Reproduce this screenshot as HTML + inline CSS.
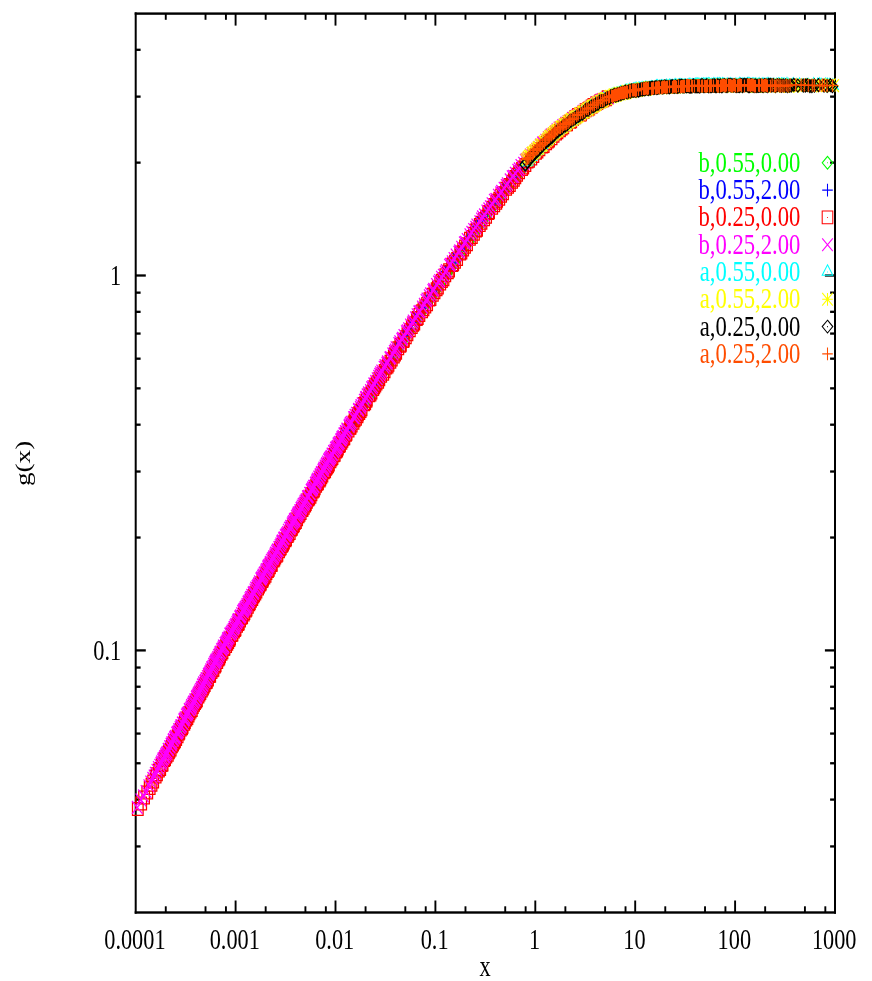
<!DOCTYPE html>
<html><head><meta charset="utf-8"><title>g(x)</title>
<style>html,body{margin:0;padding:0;background:#fff}svg{display:block;will-change:transform}text{font-family:"Liberation Serif",serif;font-size:22.3px}</style></head><body>
<svg width="872" height="981" viewBox="0 0 872 981">
<rect width="872" height="981" fill="#fff"/>
<defs>
<path id="pl" d="M-5.3,0H5.3M0,-6.4V6.4"/>
<path id="cr" d="M-5.3,-6.4L5.3,6.4M-5.3,6.4L5.3,-6.4"/>
<path id="st" d="M-5.3,0H5.3M0,-6.4V6.4M-5.3,-6.4L5.3,6.4M-5.3,6.4L5.3,-6.4"/>
<path id="bx" d="M-5.3,-6.4H5.3V6.4H-5.3ZM-.4,0h.8"/>
<path id="di" d="M0,-6.4L5.3,0L0,6.4L-5.3,0ZM-.4,0h.8"/>
<path id="tr" d="M0,-7.17L5.3,3.20H-5.3ZM-.4,0h.8"/>
</defs>
<g fill="#000">
<rect x="134.70" y="12.40" width="2.0" height="901.30"/>
<rect x="834.00" y="12.40" width="2.0" height="901.30"/>
<rect x="134.70" y="12.40" width="701.30" height="2.4"/>
<rect x="134.70" y="911.30" width="701.30" height="2.4"/>
<rect x="164.82" y="13.60" width="1.9" height="6.2"/>
<rect x="164.82" y="906.30" width="1.9" height="6.2"/>
<rect x="204.58" y="13.60" width="1.9" height="6.2"/>
<rect x="204.58" y="906.30" width="1.9" height="6.2"/>
<rect x="224.97" y="13.60" width="1.9" height="6.2"/>
<rect x="224.97" y="906.30" width="1.9" height="6.2"/>
<rect x="234.65" y="13.60" width="1.9" height="12.0"/>
<rect x="234.65" y="900.50" width="1.9" height="12.0"/>
<rect x="264.72" y="13.60" width="1.9" height="6.2"/>
<rect x="264.72" y="906.30" width="1.9" height="6.2"/>
<rect x="304.48" y="13.60" width="1.9" height="6.2"/>
<rect x="304.48" y="906.30" width="1.9" height="6.2"/>
<rect x="324.87" y="13.60" width="1.9" height="6.2"/>
<rect x="324.87" y="906.30" width="1.9" height="6.2"/>
<rect x="334.55" y="13.60" width="1.9" height="12.0"/>
<rect x="334.55" y="900.50" width="1.9" height="12.0"/>
<rect x="364.62" y="13.60" width="1.9" height="6.2"/>
<rect x="364.62" y="906.30" width="1.9" height="6.2"/>
<rect x="404.38" y="13.60" width="1.9" height="6.2"/>
<rect x="404.38" y="906.30" width="1.9" height="6.2"/>
<rect x="424.77" y="13.60" width="1.9" height="6.2"/>
<rect x="424.77" y="906.30" width="1.9" height="6.2"/>
<rect x="434.45" y="13.60" width="1.9" height="12.0"/>
<rect x="434.45" y="900.50" width="1.9" height="12.0"/>
<rect x="464.52" y="13.60" width="1.9" height="6.2"/>
<rect x="464.52" y="906.30" width="1.9" height="6.2"/>
<rect x="504.28" y="13.60" width="1.9" height="6.2"/>
<rect x="504.28" y="906.30" width="1.9" height="6.2"/>
<rect x="524.67" y="13.60" width="1.9" height="6.2"/>
<rect x="524.67" y="906.30" width="1.9" height="6.2"/>
<rect x="534.35" y="13.60" width="1.9" height="12.0"/>
<rect x="534.35" y="900.50" width="1.9" height="12.0"/>
<rect x="564.42" y="13.60" width="1.9" height="6.2"/>
<rect x="564.42" y="906.30" width="1.9" height="6.2"/>
<rect x="604.18" y="13.60" width="1.9" height="6.2"/>
<rect x="604.18" y="906.30" width="1.9" height="6.2"/>
<rect x="624.57" y="13.60" width="1.9" height="6.2"/>
<rect x="624.57" y="906.30" width="1.9" height="6.2"/>
<rect x="634.25" y="13.60" width="1.9" height="12.0"/>
<rect x="634.25" y="900.50" width="1.9" height="12.0"/>
<rect x="664.32" y="13.60" width="1.9" height="6.2"/>
<rect x="664.32" y="906.30" width="1.9" height="6.2"/>
<rect x="704.08" y="13.60" width="1.9" height="6.2"/>
<rect x="704.08" y="906.30" width="1.9" height="6.2"/>
<rect x="724.47" y="13.60" width="1.9" height="6.2"/>
<rect x="724.47" y="906.30" width="1.9" height="6.2"/>
<rect x="734.15" y="13.60" width="1.9" height="12.0"/>
<rect x="734.15" y="900.50" width="1.9" height="12.0"/>
<rect x="764.22" y="13.60" width="1.9" height="6.2"/>
<rect x="764.22" y="906.30" width="1.9" height="6.2"/>
<rect x="803.98" y="13.60" width="1.9" height="6.2"/>
<rect x="803.98" y="906.30" width="1.9" height="6.2"/>
<rect x="824.37" y="13.60" width="1.9" height="6.2"/>
<rect x="824.37" y="906.30" width="1.9" height="6.2"/>
<rect x="135.70" y="845.28" width="4.9" height="2.3"/>
<rect x="830.10" y="845.28" width="4.9" height="2.3"/>
<rect x="135.70" y="798.44" width="4.9" height="2.3"/>
<rect x="830.10" y="798.44" width="4.9" height="2.3"/>
<rect x="135.70" y="762.11" width="4.9" height="2.3"/>
<rect x="830.10" y="762.11" width="4.9" height="2.3"/>
<rect x="135.70" y="732.42" width="4.9" height="2.3"/>
<rect x="830.10" y="732.42" width="4.9" height="2.3"/>
<rect x="135.70" y="707.32" width="4.9" height="2.3"/>
<rect x="830.10" y="707.32" width="4.9" height="2.3"/>
<rect x="135.70" y="685.58" width="4.9" height="2.3"/>
<rect x="830.10" y="685.58" width="4.9" height="2.3"/>
<rect x="135.70" y="666.40" width="4.9" height="2.3"/>
<rect x="830.10" y="666.40" width="4.9" height="2.3"/>
<rect x="135.70" y="536.39" width="4.9" height="2.3"/>
<rect x="830.10" y="536.39" width="4.9" height="2.3"/>
<rect x="135.70" y="470.38" width="4.9" height="2.3"/>
<rect x="830.10" y="470.38" width="4.9" height="2.3"/>
<rect x="135.70" y="423.54" width="4.9" height="2.3"/>
<rect x="830.10" y="423.54" width="4.9" height="2.3"/>
<rect x="135.70" y="387.21" width="4.9" height="2.3"/>
<rect x="830.10" y="387.21" width="4.9" height="2.3"/>
<rect x="135.70" y="357.52" width="4.9" height="2.3"/>
<rect x="830.10" y="357.52" width="4.9" height="2.3"/>
<rect x="135.70" y="332.42" width="4.9" height="2.3"/>
<rect x="830.10" y="332.42" width="4.9" height="2.3"/>
<rect x="135.70" y="310.68" width="4.9" height="2.3"/>
<rect x="830.10" y="310.68" width="4.9" height="2.3"/>
<rect x="135.70" y="291.50" width="4.9" height="2.3"/>
<rect x="830.10" y="291.50" width="4.9" height="2.3"/>
<rect x="135.70" y="161.49" width="4.9" height="2.3"/>
<rect x="830.10" y="161.49" width="4.9" height="2.3"/>
<rect x="135.70" y="95.48" width="4.9" height="2.3"/>
<rect x="830.10" y="95.48" width="4.9" height="2.3"/>
<rect x="135.70" y="48.64" width="4.9" height="2.3"/>
<rect x="830.10" y="48.64" width="4.9" height="2.3"/>
<rect x="135.70" y="649.25" width="10.1" height="2.3"/>
<rect x="824.90" y="649.25" width="10.1" height="2.3"/>
<rect x="135.70" y="274.35" width="10.1" height="2.3"/>
<rect x="824.90" y="274.35" width="10.1" height="2.3"/>
</g>
<g fill="none" stroke-width="1.25">
<g stroke="#00ff00">
<use href="#di" x="176.00" y="738.5"/><use href="#di" x="179.48" y="731.8"/><use href="#di" x="180.96" y="730.4"/><use href="#di" x="182.91" y="726.3"/><use href="#di" x="184.10" y="723.9"/><use href="#di" x="186.03" y="720.9"/><use href="#di" x="187.51" y="717.4"/><use href="#di" x="188.89" y="715.4"/><use href="#di" x="190.81" y="711.8"/><use href="#di" x="192.08" y="708.5"/><use href="#di" x="193.95" y="705.1"/><use href="#di" x="195.30" y="702.6"/><use href="#di" x="196.91" y="699.5"/><use href="#di" x="198.75" y="696.6"/><use href="#di" x="200.63" y="692.6"/><use href="#di" x="201.74" y="690.7"/><use href="#di" x="203.41" y="687.2"/><use href="#di" x="205.29" y="684.8"/><use href="#di" x="207.11" y="680.6"/><use href="#di" x="208.45" y="678.2"/><use href="#di" x="209.93" y="675.7"/><use href="#di" x="211.93" y="672.4"/><use href="#di" x="212.88" y="669.9"/><use href="#di" x="215.05" y="666.6"/><use href="#di" x="216.25" y="663.8"/><use href="#di" x="217.75" y="661.1"/><use href="#di" x="219.33" y="658.2"/><use href="#di" x="221.07" y="654.3"/><use href="#di" x="223.02" y="651.3"/><use href="#di" x="224.18" y="648.9"/><use href="#di" x="226.06" y="645.2"/><use href="#di" x="227.70" y="643.3"/><use href="#di" x="229.11" y="639.9"/><use href="#di" x="230.83" y="637.2"/><use href="#di" x="232.09" y="635.2"/><use href="#di" x="233.69" y="632.1"/><use href="#di" x="235.39" y="628.7"/><use href="#di" x="237.33" y="625.5"/><use href="#di" x="238.75" y="623.0"/><use href="#di" x="240.27" y="620.6"/><use href="#di" x="242.06" y="616.4"/><use href="#di" x="243.57" y="614.4"/><use href="#di" x="245.06" y="611.2"/><use href="#di" x="247.01" y="607.8"/><use href="#di" x="248.54" y="605.8"/><use href="#di" x="249.82" y="603.1"/><use href="#di" x="251.65" y="599.9"/><use href="#di" x="253.22" y="597.4"/><use href="#di" x="255.06" y="594.3"/><use href="#di" x="256.56" y="591.0"/><use href="#di" x="257.85" y="588.9"/><use href="#di" x="259.94" y="585.1"/><use href="#di" x="260.93" y="583.3"/><use href="#di" x="262.74" y="580.4"/><use href="#di" x="264.58" y="576.8"/><use href="#di" x="265.76" y="574.8"/><use href="#di" x="267.59" y="571.5"/><use href="#di" x="268.88" y="569.9"/><use href="#di" x="270.92" y="565.9"/><use href="#di" x="272.59" y="563.2"/><use href="#di" x="274.05" y="560.7"/><use href="#di" x="275.86" y="556.6"/><use href="#di" x="277.07" y="554.8"/><use href="#di" x="278.94" y="552.1"/><use href="#di" x="280.47" y="549.2"/><use href="#di" x="282.06" y="545.4"/><use href="#di" x="283.57" y="542.7"/><use href="#di" x="285.44" y="539.9"/><use href="#di" x="287.11" y="536.4"/><use href="#di" x="288.38" y="534.4"/><use href="#di" x="290.11" y="531.1"/><use href="#di" x="291.29" y="529.9"/><use href="#di" x="293.34" y="526.4"/><use href="#di" x="294.90" y="523.8"/><use href="#di" x="296.75" y="519.6"/><use href="#di" x="298.23" y="517.7"/><use href="#di" x="299.45" y="515.5"/><use href="#di" x="301.12" y="511.9"/><use href="#di" x="302.92" y="509.7"/><use href="#di" x="304.07" y="507.8"/><use href="#di" x="305.97" y="503.5"/><use href="#di" x="307.37" y="502.0"/><use href="#di" x="308.93" y="498.5"/><use href="#di" x="310.49" y="495.9"/><use href="#di" x="312.59" y="493.0"/><use href="#di" x="313.74" y="490.8"/><use href="#di" x="315.42" y="486.9"/><use href="#di" x="317.12" y="484.3"/><use href="#di" x="319.06" y="481.1"/><use href="#di" x="320.11" y="479.0"/><use href="#di" x="321.96" y="475.6"/><use href="#di" x="323.63" y="472.9"/><use href="#di" x="325.47" y="470.3"/><use href="#di" x="327.02" y="466.6"/><use href="#di" x="328.65" y="464.6"/><use href="#di" x="329.84" y="462.4"/><use href="#di" x="331.54" y="458.9"/><use href="#di" x="333.10" y="456.7"/><use href="#di" x="335.07" y="453.7"/><use href="#di" x="336.72" y="450.7"/><use href="#di" x="337.76" y="448.4"/><use href="#di" x="339.37" y="446.9"/><use href="#di" x="341.01" y="443.8"/><use href="#di" x="342.61" y="441.4"/><use href="#di" x="344.39" y="437.2"/><use href="#di" x="346.06" y="434.5"/><use href="#di" x="348.17" y="430.7"/><use href="#di" x="349.24" y="429.9"/><use href="#di" x="351.27" y="425.8"/><use href="#di" x="352.66" y="423.2"/><use href="#di" x="354.42" y="420.7"/><use href="#di" x="356.45" y="417.9"/><use href="#di" x="357.59" y="415.9"/><use href="#di" x="358.86" y="413.0"/><use href="#di" x="360.54" y="410.0"/><use href="#di" x="362.17" y="408.4"/><use href="#di" x="362.86" y="406.7"/><use href="#di" x="365.62" y="402.3"/><use href="#di" x="367.04" y="399.1"/><use href="#di" x="368.78" y="396.1"/><use href="#di" x="370.30" y="394.5"/><use href="#di" x="371.37" y="392.4"/><use href="#di" x="373.03" y="389.1"/><use href="#di" x="374.29" y="388.3"/><use href="#di" x="376.72" y="383.8"/><use href="#di" x="377.62" y="382.6"/><use href="#di" x="379.35" y="378.8"/><use href="#di" x="381.28" y="376.7"/><use href="#di" x="382.96" y="372.8"/><use href="#di" x="384.98" y="370.7"/><use href="#di" x="386.36" y="367.8"/><use href="#di" x="388.09" y="364.9"/><use href="#di" x="390.12" y="361.9"/><use href="#di" x="391.88" y="359.6"/><use href="#di" x="394.10" y="355.1"/><use href="#di" x="395.50" y="352.7"/><use href="#di" x="398.58" y="348.3"/><use href="#di" x="400.12" y="345.5"/><use href="#di" x="401.39" y="343.3"/><use href="#di" x="403.48" y="340.0"/><use href="#di" x="405.57" y="336.6"/><use href="#di" x="407.58" y="333.6"/><use href="#di" x="409.24" y="331.2"/><use href="#di" x="412.27" y="326.4"/><use href="#di" x="414.51" y="323.5"/><use href="#di" x="415.83" y="320.8"/><use href="#di" x="417.93" y="317.8"/><use href="#di" x="419.47" y="315.0"/><use href="#di" x="421.61" y="311.9"/><use href="#di" x="424.08" y="307.6"/><use href="#di" x="426.12" y="304.8"/><use href="#di" x="429.09" y="299.9"/><use href="#di" x="430.35" y="298.9"/><use href="#di" x="432.38" y="295.6"/><use href="#di" x="435.92" y="289.7"/><use href="#di" x="437.58" y="287.5"/><use href="#di" x="439.33" y="285.5"/><use href="#di" x="442.19" y="280.1"/><use href="#di" x="443.79" y="278.6"/><use href="#di" x="446.84" y="273.5"/><use href="#di" x="449.84" y="269.1"/><use href="#di" x="452.07" y="266.2"/><use href="#di" x="454.24" y="262.4"/><use href="#di" x="456.03" y="259.9"/><use href="#di" x="458.58" y="256.4"/><use href="#di" x="460.70" y="253.6"/><use href="#di" x="463.94" y="248.0"/><use href="#di" x="466.01" y="245.6"/><use href="#di" x="468.75" y="241.4"/><use href="#di" x="470.52" y="238.8"/><use href="#di" x="472.78" y="235.2"/><use href="#di" x="476.00" y="230.4"/><use href="#di" x="478.64" y="226.2"/><use href="#di" x="480.86" y="223.2"/><use href="#di" x="483.19" y="219.8"/><use href="#di" x="485.61" y="217.3"/><use href="#di" x="487.90" y="213.4"/><use href="#di" x="489.58" y="211.0"/><use href="#di" x="492.39" y="207.0"/><use href="#di" x="494.56" y="205.1"/><use href="#di" x="496.50" y="202.5"/><use href="#di" x="498.90" y="199.0"/><use href="#di" x="501.65" y="194.8"/><use href="#di" x="504.03" y="191.6"/><use href="#di" x="507.03" y="187.7"/><use href="#di" x="509.80" y="184.4"/><use href="#di" x="511.49" y="181.8"/><use href="#di" x="514.58" y="178.2"/><use href="#di" x="517.05" y="174.8"/><use href="#di" x="519.40" y="172.7"/><use href="#di" x="520.97" y="170.7"/><use href="#di" x="523.17" y="167.3"/><use href="#di" x="525.58" y="164.0"/><use href="#di" x="527.94" y="162.3"/><use href="#di" x="530.35" y="158.7"/><use href="#di" x="533.34" y="155.7"/><use href="#di" x="536.12" y="152.4"/><use href="#di" x="538.44" y="150.6"/><use href="#di" x="540.33" y="148.8"/><use href="#di" x="542.98" y="146.2"/><use href="#di" x="545.58" y="143.1"/><use href="#di" x="546.98" y="142.1"/><use href="#di" x="550.19" y="138.2"/><use href="#di" x="552.94" y="135.9"/><use href="#di" x="555.16" y="133.5"/><use href="#di" x="557.51" y="131.8"/><use href="#di" x="559.53" y="129.6"/><use href="#di" x="561.51" y="127.8"/><use href="#di" x="564.77" y="125.5"/><use href="#di" x="566.53" y="124.0"/><use href="#di" x="569.58" y="122.2"/><use href="#di" x="572.22" y="120.1"/><use href="#di" x="573.82" y="119.2"/><use href="#di" x="576.23" y="117.3"/><use href="#di" x="579.39" y="115.0"/><use href="#di" x="581.48" y="113.7"/><use href="#di" x="583.10" y="111.9"/><use href="#di" x="585.44" y="110.2"/><use href="#di" x="587.87" y="109.5"/><use href="#di" x="591.33" y="106.2"/><use href="#di" x="593.59" y="105.6"/><use href="#di" x="595.07" y="104.6"/><use href="#di" x="598.42" y="101.8"/><use href="#di" x="601.04" y="101.5"/><use href="#di" x="602.98" y="100.6"/><use href="#di" x="604.95" y="99.3"/><use href="#di" x="607.63" y="98.2"/>
</g>
<g stroke="#0000ff">
<use href="#pl" x="172.00" y="743.0"/><use href="#pl" x="175.82" y="735.5"/><use href="#pl" x="176.95" y="733.1"/><use href="#pl" x="178.82" y="730.2"/><use href="#pl" x="180.40" y="727.6"/><use href="#pl" x="182.23" y="723.1"/><use href="#pl" x="183.81" y="719.9"/><use href="#pl" x="185.43" y="717.3"/><use href="#pl" x="186.86" y="714.7"/><use href="#pl" x="188.67" y="711.7"/><use href="#pl" x="190.13" y="708.2"/><use href="#pl" x="191.74" y="706.0"/><use href="#pl" x="193.01" y="703.6"/><use href="#pl" x="194.47" y="700.5"/><use href="#pl" x="196.14" y="696.9"/><use href="#pl" x="197.90" y="694.7"/><use href="#pl" x="199.32" y="691.1"/><use href="#pl" x="201.44" y="687.9"/><use href="#pl" x="202.84" y="684.4"/><use href="#pl" x="204.49" y="681.3"/><use href="#pl" x="206.09" y="679.1"/><use href="#pl" x="207.73" y="675.4"/><use href="#pl" x="209.19" y="673.5"/><use href="#pl" x="210.45" y="670.6"/><use href="#pl" x="212.61" y="666.1"/><use href="#pl" x="214.17" y="663.3"/><use href="#pl" x="215.60" y="660.9"/><use href="#pl" x="217.22" y="658.3"/><use href="#pl" x="218.91" y="655.6"/><use href="#pl" x="220.10" y="652.3"/><use href="#pl" x="222.17" y="648.8"/><use href="#pl" x="223.43" y="646.3"/><use href="#pl" x="224.90" y="644.6"/><use href="#pl" x="226.64" y="640.3"/><use href="#pl" x="228.56" y="636.7"/><use href="#pl" x="229.79" y="634.5"/><use href="#pl" x="231.77" y="631.4"/><use href="#pl" x="233.53" y="628.9"/><use href="#pl" x="234.80" y="626.6"/><use href="#pl" x="236.32" y="623.6"/><use href="#pl" x="237.99" y="621.0"/><use href="#pl" x="239.73" y="617.8"/><use href="#pl" x="241.39" y="613.9"/><use href="#pl" x="242.88" y="611.1"/><use href="#pl" x="244.50" y="609.2"/><use href="#pl" x="245.70" y="606.8"/><use href="#pl" x="247.35" y="602.8"/><use href="#pl" x="249.03" y="600.7"/><use href="#pl" x="250.97" y="596.9"/><use href="#pl" x="252.26" y="594.6"/><use href="#pl" x="254.05" y="591.3"/><use href="#pl" x="255.26" y="588.9"/><use href="#pl" x="256.89" y="585.8"/><use href="#pl" x="258.64" y="583.1"/><use href="#pl" x="260.52" y="579.8"/><use href="#pl" x="262.13" y="577.8"/><use href="#pl" x="263.72" y="573.8"/><use href="#pl" x="265.05" y="572.7"/><use href="#pl" x="266.81" y="568.5"/><use href="#pl" x="268.38" y="565.9"/><use href="#pl" x="269.98" y="563.8"/><use href="#pl" x="271.33" y="561.4"/><use href="#pl" x="273.48" y="557.0"/><use href="#pl" x="274.59" y="554.5"/><use href="#pl" x="276.73" y="551.3"/><use href="#pl" x="278.31" y="548.4"/><use href="#pl" x="279.26" y="547.5"/><use href="#pl" x="281.17" y="543.1"/><use href="#pl" x="283.02" y="540.1"/><use href="#pl" x="284.73" y="537.8"/><use href="#pl" x="285.96" y="534.4"/><use href="#pl" x="287.44" y="532.3"/><use href="#pl" x="289.00" y="530.1"/><use href="#pl" x="291.11" y="526.3"/><use href="#pl" x="292.20" y="523.4"/><use href="#pl" x="294.06" y="520.1"/><use href="#pl" x="295.35" y="517.9"/><use href="#pl" x="297.22" y="515.8"/><use href="#pl" x="299.12" y="511.5"/><use href="#pl" x="300.14" y="510.4"/><use href="#pl" x="302.22" y="507.0"/><use href="#pl" x="303.61" y="503.8"/><use href="#pl" x="305.47" y="500.4"/><use href="#pl" x="306.94" y="498.8"/><use href="#pl" x="308.21" y="496.1"/><use href="#pl" x="310.28" y="492.0"/><use href="#pl" x="311.59" y="490.3"/><use href="#pl" x="312.87" y="487.6"/><use href="#pl" x="314.45" y="484.7"/><use href="#pl" x="316.39" y="481.0"/><use href="#pl" x="317.97" y="479.3"/><use href="#pl" x="319.46" y="476.9"/><use href="#pl" x="320.95" y="474.0"/><use href="#pl" x="322.69" y="471.4"/><use href="#pl" x="324.27" y="467.4"/><use href="#pl" x="326.24" y="464.3"/><use href="#pl" x="327.25" y="462.9"/><use href="#pl" x="329.38" y="459.9"/><use href="#pl" x="331.04" y="457.1"/><use href="#pl" x="332.13" y="454.4"/><use href="#pl" x="334.30" y="450.5"/><use href="#pl" x="335.75" y="448.3"/><use href="#pl" x="337.48" y="445.4"/><use href="#pl" x="338.65" y="444.0"/><use href="#pl" x="340.31" y="440.2"/><use href="#pl" x="341.93" y="438.3"/><use href="#pl" x="343.95" y="434.8"/><use href="#pl" x="345.26" y="432.7"/><use href="#pl" x="346.70" y="430.2"/><use href="#pl" x="348.40" y="427.1"/><use href="#pl" x="349.50" y="424.8"/><use href="#pl" x="350.51" y="423.1"/><use href="#pl" x="351.92" y="420.8"/><use href="#pl" x="354.30" y="417.4"/><use href="#pl" x="354.89" y="415.4"/><use href="#pl" x="357.18" y="411.7"/><use href="#pl" x="357.60" y="411.8"/><use href="#pl" x="359.02" y="408.7"/><use href="#pl" x="360.78" y="405.5"/><use href="#pl" x="361.75" y="403.8"/><use href="#pl" x="363.44" y="401.7"/><use href="#pl" x="365.71" y="397.6"/><use href="#pl" x="367.06" y="396.3"/><use href="#pl" x="368.44" y="393.9"/><use href="#pl" x="369.67" y="392.0"/><use href="#pl" x="371.56" y="387.8"/><use href="#pl" x="373.11" y="385.0"/><use href="#pl" x="374.09" y="383.4"/><use href="#pl" x="375.87" y="381.1"/><use href="#pl" x="376.48" y="380.3"/><use href="#pl" x="379.00" y="375.8"/><use href="#pl" x="380.18" y="373.6"/><use href="#pl" x="382.20" y="370.6"/><use href="#pl" x="383.65" y="368.5"/><use href="#pl" x="384.77" y="366.7"/><use href="#pl" x="386.07" y="364.7"/><use href="#pl" x="388.95" y="360.2"/><use href="#pl" x="389.50" y="359.1"/><use href="#pl" x="391.66" y="354.8"/><use href="#pl" x="393.17" y="353.4"/><use href="#pl" x="394.81" y="350.0"/><use href="#pl" x="397.15" y="346.7"/><use href="#pl" x="399.22" y="343.1"/><use href="#pl" x="399.97" y="342.4"/><use href="#pl" x="402.29" y="338.0"/><use href="#pl" x="403.57" y="336.0"/><use href="#pl" x="405.73" y="332.6"/><use href="#pl" x="407.32" y="330.0"/><use href="#pl" x="408.83" y="328.6"/><use href="#pl" x="410.66" y="325.3"/><use href="#pl" x="412.59" y="321.9"/><use href="#pl" x="415.45" y="317.5"/><use href="#pl" x="416.77" y="316.3"/><use href="#pl" x="418.29" y="313.3"/><use href="#pl" x="421.18" y="308.4"/><use href="#pl" x="423.25" y="306.0"/><use href="#pl" x="424.44" y="303.9"/><use href="#pl" x="425.99" y="302.0"/><use href="#pl" x="428.06" y="297.6"/><use href="#pl" x="429.93" y="295.2"/><use href="#pl" x="432.31" y="292.1"/><use href="#pl" x="434.00" y="289.5"/><use href="#pl" x="436.28" y="286.1"/><use href="#pl" x="438.39" y="281.7"/><use href="#pl" x="440.93" y="278.2"/><use href="#pl" x="443.49" y="274.1"/><use href="#pl" x="445.44" y="271.3"/><use href="#pl" x="447.12" y="269.8"/><use href="#pl" x="449.30" y="266.0"/><use href="#pl" x="451.65" y="263.0"/><use href="#pl" x="453.64" y="259.2"/><use href="#pl" x="455.79" y="256.7"/><use href="#pl" x="457.60" y="253.5"/><use href="#pl" x="460.10" y="249.5"/><use href="#pl" x="463.27" y="245.6"/><use href="#pl" x="464.29" y="244.3"/><use href="#pl" x="467.02" y="239.1"/><use href="#pl" x="469.40" y="236.3"/><use href="#pl" x="471.92" y="232.7"/><use href="#pl" x="473.22" y="230.3"/><use href="#pl" x="475.49" y="227.2"/><use href="#pl" x="477.66" y="223.8"/><use href="#pl" x="480.07" y="220.4"/><use href="#pl" x="482.34" y="217.3"/><use href="#pl" x="485.25" y="213.6"/><use href="#pl" x="487.30" y="210.8"/><use href="#pl" x="489.54" y="207.1"/><use href="#pl" x="490.55" y="205.4"/><use href="#pl" x="492.76" y="202.8"/><use href="#pl" x="495.91" y="199.0"/><use href="#pl" x="498.37" y="195.0"/><use href="#pl" x="499.98" y="193.0"/><use href="#pl" x="502.34" y="189.8"/><use href="#pl" x="503.72" y="188.8"/><use href="#pl" x="506.46" y="184.8"/><use href="#pl" x="509.41" y="180.3"/><use href="#pl" x="511.47" y="177.7"/><use href="#pl" x="513.71" y="175.3"/><use href="#pl" x="516.08" y="172.5"/><use href="#pl" x="517.26" y="171.1"/><use href="#pl" x="519.27" y="167.7"/><use href="#pl" x="521.53" y="164.9"/><use href="#pl" x="524.25" y="162.3"/><use href="#pl" x="526.67" y="159.1"/><use href="#pl" x="529.23" y="156.2"/><use href="#pl" x="531.13" y="154.3"/><use href="#pl" x="533.22" y="153.1"/><use href="#pl" x="535.59" y="149.9"/><use href="#pl" x="537.36" y="148.6"/><use href="#pl" x="539.69" y="146.1"/><use href="#pl" x="541.17" y="144.8"/><use href="#pl" x="544.41" y="142.3"/><use href="#pl" x="545.84" y="141.1"/><use href="#pl" x="549.00" y="137.2"/><use href="#pl" x="550.82" y="135.3"/><use href="#pl" x="552.54" y="134.5"/><use href="#pl" x="554.49" y="132.0"/><use href="#pl" x="556.87" y="129.7"/><use href="#pl" x="559.61" y="128.7"/><use href="#pl" x="561.89" y="126.2"/><use href="#pl" x="563.27" y="125.8"/><use href="#pl" x="565.41" y="123.6"/><use href="#pl" x="568.25" y="122.3"/><use href="#pl" x="570.53" y="120.2"/><use href="#pl" x="572.46" y="118.5"/><use href="#pl" x="574.43" y="116.9"/><use href="#pl" x="577.16" y="115.9"/><use href="#pl" x="578.53" y="115.1"/><use href="#pl" x="581.14" y="113.7"/><use href="#pl" x="583.56" y="110.9"/><use href="#pl" x="586.46" y="109.7"/><use href="#pl" x="588.22" y="108.2"/><use href="#pl" x="590.75" y="106.9"/><use href="#pl" x="592.38" y="105.4"/><use href="#pl" x="594.24" y="104.4"/><use href="#pl" x="596.46" y="103.5"/><use href="#pl" x="599.66" y="102.3"/><use href="#pl" x="601.50" y="100.2"/><use href="#pl" x="603.15" y="99.9"/><use href="#pl" x="604.95" y="99.5"/><use href="#pl" x="607.81" y="98.5"/>
</g>
<g stroke="#ff0000">
<use href="#bx" x="137.80" y="809.1"/><use href="#bx" x="141.19" y="803.6"/><use href="#bx" x="144.07" y="797.5"/><use href="#bx" x="147.27" y="792.6"/><use href="#bx" x="149.68" y="788.0"/><use href="#bx" x="151.51" y="784.8"/><use href="#bx" x="153.20" y="781.4"/><use href="#bx" x="155.65" y="776.5"/><use href="#bx" x="156.97" y="774.2"/><use href="#bx" x="158.91" y="770.6"/><use href="#bx" x="160.20" y="768.9"/><use href="#bx" x="161.74" y="764.9"/><use href="#bx" x="162.59" y="764.4"/><use href="#bx" x="164.29" y="760.1"/><use href="#bx" x="165.09" y="758.9"/><use href="#bx" x="166.38" y="756.5"/><use href="#bx" x="167.82" y="754.8"/><use href="#bx" x="168.91" y="752.2"/><use href="#bx" x="169.56" y="750.8"/><use href="#bx" x="170.68" y="749.4"/><use href="#bx" x="171.91" y="746.3"/><use href="#bx" x="173.09" y="744.4"/><use href="#bx" x="174.10" y="742.6"/><use href="#bx" x="175.01" y="741.2"/><use href="#bx" x="176.20" y="739.0"/><use href="#bx" x="177.63" y="736.2"/><use href="#bx" x="178.86" y="733.5"/><use href="#bx" x="179.36" y="732.5"/><use href="#bx" x="180.82" y="729.5"/><use href="#bx" x="182.06" y="728.2"/><use href="#bx" x="182.65" y="726.8"/><use href="#bx" x="184.31" y="723.8"/><use href="#bx" x="184.91" y="721.9"/><use href="#bx" x="186.35" y="719.6"/><use href="#bx" x="187.41" y="718.0"/><use href="#bx" x="188.57" y="715.6"/><use href="#bx" x="189.44" y="713.3"/><use href="#bx" x="190.62" y="711.6"/><use href="#bx" x="191.84" y="709.9"/><use href="#bx" x="192.83" y="707.1"/><use href="#bx" x="194.09" y="704.7"/><use href="#bx" x="195.04" y="703.1"/><use href="#bx" x="196.13" y="701.6"/><use href="#bx" x="196.94" y="700.3"/><use href="#bx" x="198.46" y="696.5"/><use href="#bx" x="199.47" y="694.6"/><use href="#bx" x="200.39" y="693.0"/><use href="#bx" x="201.86" y="690.4"/><use href="#bx" x="202.97" y="688.6"/><use href="#bx" x="203.85" y="686.4"/><use href="#bx" x="204.75" y="685.0"/><use href="#bx" x="206.06" y="682.3"/><use href="#bx" x="206.90" y="681.8"/><use href="#bx" x="208.02" y="679.4"/><use href="#bx" x="209.33" y="676.1"/><use href="#bx" x="210.19" y="675.7"/><use href="#bx" x="211.54" y="672.0"/><use href="#bx" x="212.68" y="670.3"/><use href="#bx" x="213.46" y="669.7"/><use href="#bx" x="214.97" y="666.6"/><use href="#bx" x="215.68" y="665.2"/><use href="#bx" x="217.24" y="661.9"/><use href="#bx" x="218.37" y="659.5"/><use href="#bx" x="219.29" y="658.4"/><use href="#bx" x="220.07" y="656.3"/><use href="#bx" x="221.48" y="653.8"/><use href="#bx" x="222.49" y="652.2"/><use href="#bx" x="223.99" y="649.0"/><use href="#bx" x="224.52" y="648.5"/><use href="#bx" x="226.13" y="646.1"/><use href="#bx" x="227.32" y="643.8"/><use href="#bx" x="228.24" y="641.9"/><use href="#bx" x="229.40" y="640.0"/><use href="#bx" x="230.06" y="638.5"/><use href="#bx" x="231.71" y="635.1"/><use href="#bx" x="232.47" y="634.4"/><use href="#bx" x="233.90" y="631.5"/><use href="#bx" x="234.97" y="630.1"/><use href="#bx" x="235.54" y="629.3"/><use href="#bx" x="237.08" y="625.8"/><use href="#bx" x="238.28" y="623.9"/><use href="#bx" x="238.77" y="623.2"/><use href="#bx" x="240.07" y="620.4"/><use href="#bx" x="241.46" y="617.7"/><use href="#bx" x="242.14" y="617.1"/><use href="#bx" x="243.75" y="614.5"/><use href="#bx" x="244.42" y="613.1"/><use href="#bx" x="245.90" y="610.4"/><use href="#bx" x="246.53" y="609.5"/><use href="#bx" x="247.88" y="606.8"/><use href="#bx" x="249.27" y="604.3"/><use href="#bx" x="249.87" y="602.9"/><use href="#bx" x="251.01" y="600.7"/><use href="#bx" x="252.28" y="598.9"/><use href="#bx" x="253.25" y="596.4"/><use href="#bx" x="254.15" y="595.3"/><use href="#bx" x="255.35" y="593.6"/><use href="#bx" x="256.44" y="591.6"/><use href="#bx" x="258.08" y="588.6"/><use href="#bx" x="259.00" y="586.4"/><use href="#bx" x="260.25" y="584.4"/><use href="#bx" x="260.85" y="583.4"/><use href="#bx" x="262.38" y="580.9"/><use href="#bx" x="263.01" y="579.5"/><use href="#bx" x="264.40" y="577.4"/><use href="#bx" x="265.57" y="575.7"/><use href="#bx" x="266.48" y="573.0"/><use href="#bx" x="267.94" y="571.1"/><use href="#bx" x="268.82" y="569.7"/><use href="#bx" x="269.93" y="567.2"/><use href="#bx" x="271.25" y="565.0"/><use href="#bx" x="271.80" y="564.7"/><use href="#bx" x="273.52" y="560.4"/><use href="#bx" x="274.37" y="559.6"/><use href="#bx" x="275.30" y="557.4"/><use href="#bx" x="276.69" y="555.8"/><use href="#bx" x="277.41" y="554.8"/><use href="#bx" x="279.02" y="551.3"/><use href="#bx" x="279.83" y="549.3"/><use href="#bx" x="280.78" y="548.3"/><use href="#bx" x="282.16" y="545.8"/><use href="#bx" x="283.04" y="544.5"/><use href="#bx" x="283.95" y="542.6"/><use href="#bx" x="285.45" y="540.2"/><use href="#bx" x="286.06" y="539.3"/><use href="#bx" x="287.70" y="536.0"/><use href="#bx" x="288.40" y="534.6"/><use href="#bx" x="289.77" y="533.0"/><use href="#bx" x="291.12" y="529.6"/><use href="#bx" x="291.94" y="528.8"/><use href="#bx" x="293.09" y="526.3"/><use href="#bx" x="293.95" y="525.3"/><use href="#bx" x="294.83" y="522.9"/><use href="#bx" x="295.95" y="522.1"/><use href="#bx" x="297.13" y="519.2"/><use href="#bx" x="298.56" y="516.2"/><use href="#bx" x="299.53" y="514.8"/><use href="#bx" x="300.69" y="513.0"/><use href="#bx" x="302.05" y="510.0"/><use href="#bx" x="302.62" y="509.6"/><use href="#bx" x="303.79" y="507.6"/><use href="#bx" x="305.18" y="505.5"/><use href="#bx" x="305.84" y="503.9"/><use href="#bx" x="306.93" y="501.8"/><use href="#bx" x="308.28" y="499.4"/><use href="#bx" x="309.20" y="498.5"/><use href="#bx" x="310.48" y="496.6"/><use href="#bx" x="311.48" y="494.3"/><use href="#bx" x="312.84" y="491.5"/><use href="#bx" x="313.94" y="490.4"/><use href="#bx" x="314.77" y="488.3"/><use href="#bx" x="316.16" y="485.7"/><use href="#bx" x="317.16" y="483.8"/><use href="#bx" x="318.02" y="483.2"/><use href="#bx" x="319.68" y="480.4"/><use href="#bx" x="320.30" y="479.1"/><use href="#bx" x="321.33" y="477.1"/><use href="#bx" x="322.39" y="475.4"/><use href="#bx" x="323.87" y="472.3"/><use href="#bx" x="325.14" y="471.2"/><use href="#bx" x="326.17" y="468.6"/><use href="#bx" x="327.01" y="467.5"/><use href="#bx" x="328.01" y="466.1"/><use href="#bx" x="328.94" y="464.5"/><use href="#bx" x="330.48" y="461.3"/><use href="#bx" x="331.52" y="459.3"/><use href="#bx" x="332.47" y="458.0"/><use href="#bx" x="333.78" y="455.2"/><use href="#bx" x="334.74" y="454.6"/><use href="#bx" x="336.18" y="451.4"/><use href="#bx" x="337.14" y="450.5"/><use href="#bx" x="337.90" y="448.4"/><use href="#bx" x="339.46" y="445.9"/><use href="#bx" x="339.96" y="444.9"/><use href="#bx" x="341.40" y="442.7"/><use href="#bx" x="342.41" y="440.6"/><use href="#bx" x="343.39" y="438.7"/><use href="#bx" x="344.37" y="438.1"/><use href="#bx" x="345.97" y="434.7"/><use href="#bx" x="346.54" y="433.7"/><use href="#bx" x="348.57" y="430.4"/><use href="#bx" x="350.31" y="427.7"/><use href="#bx" x="350.40" y="427.4"/><use href="#bx" x="351.70" y="425.5"/><use href="#bx" x="353.49" y="422.6"/><use href="#bx" x="354.59" y="420.3"/><use href="#bx" x="356.02" y="418.7"/><use href="#bx" x="357.51" y="416.1"/><use href="#bx" x="357.88" y="414.3"/><use href="#bx" x="359.34" y="413.0"/><use href="#bx" x="360.62" y="410.9"/><use href="#bx" x="361.56" y="409.2"/><use href="#bx" x="364.04" y="404.1"/><use href="#bx" x="365.21" y="403.2"/><use href="#bx" x="366.44" y="400.8"/><use href="#bx" x="366.78" y="399.4"/><use href="#bx" x="369.30" y="395.2"/><use href="#bx" x="370.52" y="394.5"/><use href="#bx" x="371.49" y="392.5"/><use href="#bx" x="373.26" y="389.0"/><use href="#bx" x="374.24" y="387.2"/><use href="#bx" x="375.33" y="385.4"/><use href="#bx" x="376.57" y="383.5"/><use href="#bx" x="378.17" y="381.7"/><use href="#bx" x="379.33" y="379.1"/><use href="#bx" x="381.19" y="375.8"/><use href="#bx" x="383.23" y="373.6"/><use href="#bx" x="384.62" y="371.1"/><use href="#bx" x="386.31" y="367.5"/><use href="#bx" x="387.62" y="366.4"/><use href="#bx" x="388.50" y="364.6"/><use href="#bx" x="390.41" y="361.8"/><use href="#bx" x="391.78" y="359.4"/><use href="#bx" x="393.81" y="356.5"/><use href="#bx" x="394.99" y="354.4"/><use href="#bx" x="396.19" y="352.6"/><use href="#bx" x="398.30" y="348.3"/><use href="#bx" x="400.34" y="345.8"/><use href="#bx" x="400.89" y="344.7"/><use href="#bx" x="403.44" y="340.9"/><use href="#bx" x="403.85" y="339.8"/><use href="#bx" x="405.83" y="337.3"/><use href="#bx" x="407.45" y="334.3"/><use href="#bx" x="409.83" y="330.2"/><use href="#bx" x="411.79" y="327.0"/><use href="#bx" x="413.20" y="324.7"/><use href="#bx" x="414.32" y="323.4"/><use href="#bx" x="416.82" y="318.9"/><use href="#bx" x="417.78" y="318.0"/><use href="#bx" x="419.40" y="315.0"/><use href="#bx" x="422.10" y="311.3"/><use href="#bx" x="423.48" y="309.2"/><use href="#bx" x="425.36" y="306.4"/><use href="#bx" x="427.12" y="304.1"/><use href="#bx" x="429.38" y="299.4"/><use href="#bx" x="430.50" y="298.9"/><use href="#bx" x="432.86" y="294.7"/><use href="#bx" x="434.52" y="292.3"/><use href="#bx" x="436.62" y="289.3"/><use href="#bx" x="437.92" y="287.5"/><use href="#bx" x="440.23" y="283.4"/><use href="#bx" x="441.93" y="280.9"/><use href="#bx" x="443.50" y="279.3"/><use href="#bx" x="445.32" y="275.3"/><use href="#bx" x="447.86" y="272.3"/><use href="#bx" x="449.08" y="270.4"/><use href="#bx" x="452.24" y="264.9"/><use href="#bx" x="453.17" y="264.3"/><use href="#bx" x="455.00" y="261.7"/><use href="#bx" x="457.12" y="258.9"/><use href="#bx" x="460.27" y="253.4"/><use href="#bx" x="461.45" y="252.5"/><use href="#bx" x="463.17" y="249.4"/><use href="#bx" x="465.01" y="246.6"/><use href="#bx" x="467.03" y="244.2"/><use href="#bx" x="469.94" y="238.8"/><use href="#bx" x="471.85" y="236.9"/><use href="#bx" x="473.94" y="233.8"/><use href="#bx" x="476.00" y="230.4"/><use href="#bx" x="477.06" y="229.6"/><use href="#bx" x="479.79" y="225.0"/><use href="#bx" x="481.48" y="222.8"/><use href="#bx" x="484.11" y="219.1"/><use href="#bx" x="486.11" y="216.7"/><use href="#bx" x="488.22" y="212.9"/><use href="#bx" x="489.06" y="212.1"/><use href="#bx" x="492.18" y="207.7"/><use href="#bx" x="494.25" y="205.1"/><use href="#bx" x="496.29" y="202.7"/><use href="#bx" x="497.12" y="200.8"/><use href="#bx" x="499.26" y="198.7"/><use href="#bx" x="501.12" y="195.6"/><use href="#bx" x="503.02" y="193.3"/><use href="#bx" x="506.15" y="188.8"/><use href="#bx" x="508.10" y="186.6"/><use href="#bx" x="509.86" y="185.0"/><use href="#bx" x="512.12" y="181.7"/><use href="#bx" x="513.85" y="179.6"/><use href="#bx" x="515.37" y="177.1"/><use href="#bx" x="517.11" y="174.8"/><use href="#bx" x="519.10" y="172.2"/><use href="#bx" x="522.03" y="168.9"/><use href="#bx" x="523.25" y="167.4"/><use href="#bx" x="525.41" y="164.9"/><use href="#bx" x="527.56" y="161.4"/><use href="#bx" x="529.00" y="160.8"/><use href="#bx" x="531.33" y="158.5"/><use href="#bx" x="533.36" y="155.9"/><use href="#bx" x="535.97" y="152.6"/><use href="#bx" x="537.48" y="151.4"/><use href="#bx" x="539.42" y="149.1"/><use href="#bx" x="542.32" y="146.4"/><use href="#bx" x="543.67" y="146.0"/><use href="#bx" x="546.16" y="143.1"/><use href="#bx" x="547.83" y="141.5"/><use href="#bx" x="549.01" y="140.5"/><use href="#bx" x="551.55" y="138.1"/><use href="#bx" x="553.58" y="135.8"/><use href="#bx" x="556.05" y="133.5"/><use href="#bx" x="557.45" y="132.2"/><use href="#bx" x="559.95" y="130.1"/><use href="#bx" x="561.72" y="128.5"/><use href="#bx" x="563.27" y="127.3"/><use href="#bx" x="566.17" y="124.3"/><use href="#bx" x="567.09" y="124.2"/><use href="#bx" x="570.12" y="121.6"/><use href="#bx" x="571.21" y="121.2"/><use href="#bx" x="572.97" y="118.9"/><use href="#bx" x="575.25" y="117.3"/><use href="#bx" x="578.03" y="115.0"/><use href="#bx" x="580.34" y="114.4"/><use href="#bx" x="580.97" y="114.1"/><use href="#bx" x="583.65" y="111.9"/><use href="#bx" x="585.66" y="110.1"/><use href="#bx" x="588.08" y="109.2"/><use href="#bx" x="589.23" y="108.4"/><use href="#bx" x="591.66" y="106.6"/><use href="#bx" x="593.45" y="105.0"/><use href="#bx" x="596.13" y="103.5"/><use href="#bx" x="597.33" y="103.0"/><use href="#bx" x="600.29" y="101.2"/><use href="#bx" x="601.36" y="100.8"/><use href="#bx" x="603.27" y="100.1"/><use href="#bx" x="605.95" y="99.3"/><use href="#bx" x="607.66" y="97.3"/>
</g>
<g stroke="#ff00ff">
<use href="#cr" x="137.30" y="807.4"/><use href="#cr" x="140.95" y="799.9"/><use href="#cr" x="143.48" y="795.9"/><use href="#cr" x="146.10" y="791.5"/><use href="#cr" x="148.86" y="785.8"/><use href="#cr" x="150.73" y="782.0"/><use href="#cr" x="152.80" y="778.4"/><use href="#cr" x="154.12" y="776.0"/><use href="#cr" x="155.32" y="773.3"/><use href="#cr" x="156.96" y="770.2"/><use href="#cr" x="158.37" y="767.6"/><use href="#cr" x="159.79" y="765.2"/><use href="#cr" x="160.91" y="763.3"/><use href="#cr" x="161.57" y="761.9"/><use href="#cr" x="162.48" y="760.1"/><use href="#cr" x="163.16" y="758.6"/><use href="#cr" x="164.39" y="757.0"/><use href="#cr" x="164.90" y="756.4"/><use href="#cr" x="165.64" y="754.7"/><use href="#cr" x="166.29" y="753.5"/><use href="#cr" x="167.01" y="752.2"/><use href="#cr" x="168.19" y="749.4"/><use href="#cr" x="168.50" y="749.6"/><use href="#cr" x="169.79" y="746.8"/><use href="#cr" x="169.87" y="746.8"/><use href="#cr" x="171.12" y="744.5"/><use href="#cr" x="171.30" y="744.0"/><use href="#cr" x="171.92" y="742.6"/><use href="#cr" x="173.12" y="740.3"/><use href="#cr" x="173.48" y="739.6"/><use href="#cr" x="174.53" y="738.0"/><use href="#cr" x="174.84" y="737.2"/><use href="#cr" x="175.45" y="736.4"/><use href="#cr" x="176.65" y="733.3"/><use href="#cr" x="177.31" y="732.6"/><use href="#cr" x="178.11" y="731.8"/><use href="#cr" x="178.72" y="729.8"/><use href="#cr" x="178.97" y="729.7"/><use href="#cr" x="180.05" y="727.6"/><use href="#cr" x="180.81" y="725.9"/><use href="#cr" x="181.33" y="725.9"/><use href="#cr" x="182.36" y="723.0"/><use href="#cr" x="182.59" y="723.2"/><use href="#cr" x="183.79" y="720.1"/><use href="#cr" x="184.31" y="719.0"/><use href="#cr" x="184.52" y="719.7"/><use href="#cr" x="185.22" y="717.8"/><use href="#cr" x="186.37" y="715.1"/><use href="#cr" x="187.18" y="714.0"/><use href="#cr" x="187.37" y="713.8"/><use href="#cr" x="188.23" y="712.6"/><use href="#cr" x="189.22" y="709.8"/><use href="#cr" x="189.53" y="709.4"/><use href="#cr" x="190.71" y="708.2"/><use href="#cr" x="191.15" y="707.1"/><use href="#cr" x="191.55" y="705.5"/><use href="#cr" x="192.47" y="704.0"/><use href="#cr" x="193.31" y="702.5"/><use href="#cr" x="193.92" y="701.8"/><use href="#cr" x="194.79" y="700.1"/><use href="#cr" x="195.11" y="699.8"/><use href="#cr" x="196.27" y="697.6"/><use href="#cr" x="196.67" y="696.4"/><use href="#cr" x="197.56" y="695.0"/><use href="#cr" x="198.25" y="693.7"/><use href="#cr" x="198.80" y="692.7"/><use href="#cr" x="199.48" y="691.0"/><use href="#cr" x="200.46" y="689.6"/><use href="#cr" x="201.27" y="688.0"/><use href="#cr" x="201.86" y="687.2"/><use href="#cr" x="202.41" y="685.1"/><use href="#cr" x="202.92" y="685.1"/><use href="#cr" x="203.45" y="682.9"/><use href="#cr" x="204.79" y="681.5"/><use href="#cr" x="205.30" y="680.3"/><use href="#cr" x="206.09" y="678.7"/><use href="#cr" x="206.44" y="678.7"/><use href="#cr" x="207.34" y="676.5"/><use href="#cr" x="208.30" y="674.5"/><use href="#cr" x="208.89" y="673.9"/><use href="#cr" x="209.43" y="673.0"/><use href="#cr" x="209.93" y="671.7"/><use href="#cr" x="210.71" y="669.9"/><use href="#cr" x="211.73" y="668.1"/><use href="#cr" x="212.08" y="667.5"/><use href="#cr" x="212.99" y="666.2"/><use href="#cr" x="213.63" y="664.4"/><use href="#cr" x="214.54" y="662.8"/><use href="#cr" x="215.18" y="661.9"/><use href="#cr" x="215.51" y="661.0"/><use href="#cr" x="216.01" y="660.0"/><use href="#cr" x="216.90" y="659.0"/><use href="#cr" x="217.71" y="657.6"/><use href="#cr" x="218.52" y="655.6"/><use href="#cr" x="219.38" y="654.0"/><use href="#cr" x="220.13" y="652.2"/><use href="#cr" x="220.24" y="652.2"/><use href="#cr" x="221.50" y="649.7"/><use href="#cr" x="222.18" y="649.0"/><use href="#cr" x="222.92" y="647.7"/><use href="#cr" x="223.41" y="646.1"/><use href="#cr" x="223.90" y="646.4"/><use href="#cr" x="225.01" y="643.5"/><use href="#cr" x="225.68" y="643.0"/><use href="#cr" x="226.29" y="641.9"/><use href="#cr" x="227.15" y="640.5"/><use href="#cr" x="227.46" y="638.9"/><use href="#cr" x="227.97" y="638.3"/><use href="#cr" x="229.00" y="637.1"/><use href="#cr" x="229.87" y="634.3"/><use href="#cr" x="230.15" y="633.8"/><use href="#cr" x="231.24" y="632.6"/><use href="#cr" x="232.06" y="631.0"/><use href="#cr" x="232.28" y="631.2"/><use href="#cr" x="233.24" y="629.2"/><use href="#cr" x="233.99" y="627.6"/><use href="#cr" x="234.54" y="627.2"/><use href="#cr" x="235.06" y="625.6"/><use href="#cr" x="235.79" y="624.3"/><use href="#cr" x="236.84" y="622.6"/><use href="#cr" x="237.57" y="620.9"/><use href="#cr" x="238.03" y="620.0"/><use href="#cr" x="238.47" y="619.5"/><use href="#cr" x="239.68" y="617.0"/><use href="#cr" x="240.35" y="616.7"/><use href="#cr" x="240.68" y="615.7"/><use href="#cr" x="241.62" y="613.8"/><use href="#cr" x="242.54" y="611.5"/><use href="#cr" x="243.23" y="610.7"/><use href="#cr" x="243.68" y="609.9"/><use href="#cr" x="244.35" y="609.0"/><use href="#cr" x="245.12" y="607.6"/><use href="#cr" x="245.54" y="607.3"/><use href="#cr" x="246.25" y="606.1"/><use href="#cr" x="246.94" y="604.2"/><use href="#cr" x="248.00" y="602.2"/><use href="#cr" x="248.47" y="601.7"/><use href="#cr" x="249.31" y="600.7"/><use href="#cr" x="249.89" y="598.7"/><use href="#cr" x="250.67" y="597.6"/><use href="#cr" x="251.12" y="597.2"/><use href="#cr" x="251.74" y="595.2"/><use href="#cr" x="253.11" y="593.0"/><use href="#cr" x="253.37" y="593.4"/><use href="#cr" x="253.89" y="592.3"/><use href="#cr" x="254.96" y="590.0"/><use href="#cr" x="255.76" y="588.0"/><use href="#cr" x="256.02" y="588.6"/><use href="#cr" x="257.03" y="586.5"/><use href="#cr" x="257.55" y="585.8"/><use href="#cr" x="258.38" y="584.5"/><use href="#cr" x="258.73" y="583.8"/><use href="#cr" x="259.44" y="581.9"/><use href="#cr" x="260.81" y="579.1"/><use href="#cr" x="261.42" y="578.2"/><use href="#cr" x="261.85" y="577.7"/><use href="#cr" x="262.61" y="576.4"/><use href="#cr" x="263.10" y="575.0"/><use href="#cr" x="264.16" y="573.2"/><use href="#cr" x="264.61" y="573.0"/><use href="#cr" x="265.67" y="571.1"/><use href="#cr" x="266.25" y="569.7"/><use href="#cr" x="266.99" y="569.3"/><use href="#cr" x="267.79" y="567.4"/><use href="#cr" x="267.99" y="566.2"/><use href="#cr" x="268.54" y="565.7"/><use href="#cr" x="269.35" y="564.8"/><use href="#cr" x="270.04" y="562.9"/><use href="#cr" x="270.67" y="562.3"/><use href="#cr" x="271.35" y="560.2"/><use href="#cr" x="272.40" y="558.7"/><use href="#cr" x="273.32" y="557.9"/><use href="#cr" x="273.73" y="556.8"/><use href="#cr" x="274.78" y="555.1"/><use href="#cr" x="275.45" y="553.2"/><use href="#cr" x="275.56" y="553.4"/><use href="#cr" x="276.63" y="551.6"/><use href="#cr" x="277.19" y="550.2"/><use href="#cr" x="277.70" y="549.9"/><use href="#cr" x="278.98" y="547.4"/><use href="#cr" x="279.19" y="547.7"/><use href="#cr" x="280.11" y="545.5"/><use href="#cr" x="280.86" y="543.9"/><use href="#cr" x="281.78" y="541.9"/><use href="#cr" x="282.28" y="541.1"/><use href="#cr" x="282.79" y="541.0"/><use href="#cr" x="283.53" y="538.8"/><use href="#cr" x="284.02" y="537.9"/><use href="#cr" x="285.29" y="535.8"/><use href="#cr" x="286.01" y="535.0"/><use href="#cr" x="286.17" y="535.1"/><use href="#cr" x="286.74" y="533.8"/><use href="#cr" x="287.59" y="532.6"/><use href="#cr" x="288.36" y="530.2"/><use href="#cr" x="289.44" y="528.2"/><use href="#cr" x="290.15" y="528.1"/><use href="#cr" x="290.80" y="526.3"/><use href="#cr" x="290.95" y="526.6"/><use href="#cr" x="292.16" y="523.9"/><use href="#cr" x="292.81" y="522.5"/><use href="#cr" x="293.46" y="521.5"/><use href="#cr" x="294.40" y="519.6"/><use href="#cr" x="294.45" y="520.6"/><use href="#cr" x="295.21" y="518.9"/><use href="#cr" x="296.34" y="516.5"/><use href="#cr" x="297.17" y="515.2"/><use href="#cr" x="297.69" y="514.2"/><use href="#cr" x="298.12" y="513.0"/><use href="#cr" x="299.03" y="512.6"/><use href="#cr" x="299.84" y="510.7"/><use href="#cr" x="300.09" y="510.8"/><use href="#cr" x="300.94" y="508.6"/><use href="#cr" x="301.59" y="507.7"/><use href="#cr" x="302.20" y="506.1"/><use href="#cr" x="303.15" y="504.2"/><use href="#cr" x="303.63" y="504.6"/><use href="#cr" x="304.38" y="503.1"/><use href="#cr" x="305.01" y="501.3"/><use href="#cr" x="306.09" y="500.2"/><use href="#cr" x="306.32" y="499.7"/><use href="#cr" x="307.51" y="496.9"/><use href="#cr" x="307.85" y="496.7"/><use href="#cr" x="308.44" y="496.2"/><use href="#cr" x="309.76" y="493.2"/><use href="#cr" x="309.97" y="493.5"/><use href="#cr" x="311.17" y="490.4"/><use href="#cr" x="311.82" y="489.5"/><use href="#cr" x="312.53" y="488.7"/><use href="#cr" x="312.71" y="487.7"/><use href="#cr" x="313.63" y="486.2"/><use href="#cr" x="314.08" y="486.2"/><use href="#cr" x="315.36" y="483.4"/><use href="#cr" x="316.00" y="482.8"/><use href="#cr" x="316.55" y="481.0"/><use href="#cr" x="317.13" y="479.9"/><use href="#cr" x="317.75" y="479.1"/><use href="#cr" x="318.79" y="477.1"/><use href="#cr" x="319.25" y="477.4"/><use href="#cr" x="320.05" y="475.0"/><use href="#cr" x="320.41" y="474.8"/><use href="#cr" x="321.17" y="472.9"/><use href="#cr" x="321.75" y="472.4"/><use href="#cr" x="322.91" y="470.2"/><use href="#cr" x="323.50" y="469.2"/><use href="#cr" x="323.91" y="468.0"/><use href="#cr" x="325.12" y="466.0"/><use href="#cr" x="325.40" y="466.6"/><use href="#cr" x="326.20" y="464.5"/><use href="#cr" x="326.72" y="463.5"/><use href="#cr" x="327.50" y="462.0"/><use href="#cr" x="328.60" y="460.3"/><use href="#cr" x="328.95" y="459.6"/><use href="#cr" x="329.53" y="458.4"/><use href="#cr" x="330.46" y="457.6"/><use href="#cr" x="331.03" y="456.2"/><use href="#cr" x="332.14" y="454.0"/><use href="#cr" x="332.29" y="454.6"/><use href="#cr" x="333.60" y="451.5"/><use href="#cr" x="333.65" y="451.6"/><use href="#cr" x="334.94" y="450.2"/><use href="#cr" x="335.48" y="448.3"/><use href="#cr" x="335.86" y="448.1"/><use href="#cr" x="336.75" y="447.2"/><use href="#cr" x="337.31" y="446.2"/><use href="#cr" x="337.99" y="444.1"/><use href="#cr" x="338.65" y="443.2"/><use href="#cr" x="339.47" y="442.4"/><use href="#cr" x="340.61" y="440.0"/><use href="#cr" x="341.31" y="439.6"/><use href="#cr" x="341.96" y="437.4"/><use href="#cr" x="342.08" y="438.3"/><use href="#cr" x="342.91" y="436.2"/><use href="#cr" x="344.04" y="433.9"/><use href="#cr" x="344.15" y="434.0"/><use href="#cr" x="345.32" y="431.6"/><use href="#cr" x="345.72" y="431.7"/><use href="#cr" x="346.90" y="429.1"/><use href="#cr" x="346.92" y="430.0"/><use href="#cr" x="348.93" y="426.1"/><use href="#cr" x="349.41" y="425.0"/><use href="#cr" x="350.28" y="423.4"/><use href="#cr" x="351.24" y="422.3"/><use href="#cr" x="353.56" y="417.8"/><use href="#cr" x="354.30" y="417.5"/><use href="#cr" x="355.01" y="415.3"/><use href="#cr" x="356.54" y="413.2"/><use href="#cr" x="358.41" y="410.1"/><use href="#cr" x="358.64" y="409.4"/><use href="#cr" x="360.35" y="407.2"/><use href="#cr" x="360.97" y="405.6"/><use href="#cr" x="362.27" y="403.8"/><use href="#cr" x="364.34" y="400.3"/><use href="#cr" x="365.51" y="397.9"/><use href="#cr" x="366.05" y="397.2"/><use href="#cr" x="367.15" y="394.9"/><use href="#cr" x="368.45" y="392.9"/><use href="#cr" x="370.47" y="390.5"/><use href="#cr" x="371.61" y="387.8"/><use href="#cr" x="372.61" y="386.7"/><use href="#cr" x="373.83" y="383.9"/><use href="#cr" x="375.73" y="381.4"/><use href="#cr" x="377.21" y="378.7"/><use href="#cr" x="378.70" y="376.4"/><use href="#cr" x="379.74" y="374.4"/><use href="#cr" x="380.58" y="372.7"/><use href="#cr" x="381.77" y="371.1"/><use href="#cr" x="384.09" y="367.2"/><use href="#cr" x="385.04" y="365.5"/><use href="#cr" x="386.89" y="363.4"/><use href="#cr" x="387.38" y="361.9"/><use href="#cr" x="389.87" y="358.1"/><use href="#cr" x="390.65" y="357.5"/><use href="#cr" x="392.82" y="353.9"/><use href="#cr" x="394.31" y="351.6"/><use href="#cr" x="395.27" y="350.1"/><use href="#cr" x="396.09" y="347.7"/><use href="#cr" x="398.84" y="343.6"/><use href="#cr" x="399.75" y="341.8"/><use href="#cr" x="401.82" y="339.4"/><use href="#cr" x="402.51" y="338.3"/><use href="#cr" x="403.94" y="335.6"/><use href="#cr" x="406.40" y="331.8"/><use href="#cr" x="407.32" y="330.7"/><use href="#cr" x="408.61" y="328.7"/><use href="#cr" x="410.50" y="325.1"/><use href="#cr" x="412.41" y="322.9"/><use href="#cr" x="413.20" y="321.0"/><use href="#cr" x="415.55" y="317.7"/><use href="#cr" x="417.09" y="314.7"/><use href="#cr" x="418.84" y="311.9"/><use href="#cr" x="419.95" y="311.3"/><use href="#cr" x="422.46" y="307.1"/><use href="#cr" x="424.30" y="304.2"/><use href="#cr" x="426.07" y="300.6"/><use href="#cr" x="427.02" y="299.1"/><use href="#cr" x="429.30" y="295.8"/><use href="#cr" x="430.58" y="293.9"/><use href="#cr" x="432.85" y="290.5"/><use href="#cr" x="433.65" y="289.4"/><use href="#cr" x="436.57" y="284.5"/><use href="#cr" x="438.48" y="282.0"/><use href="#cr" x="439.64" y="280.6"/><use href="#cr" x="441.49" y="277.2"/><use href="#cr" x="443.35" y="275.3"/><use href="#cr" x="445.21" y="272.1"/><use href="#cr" x="446.35" y="270.6"/><use href="#cr" x="449.55" y="265.2"/><use href="#cr" x="450.41" y="264.2"/><use href="#cr" x="452.25" y="261.8"/><use href="#cr" x="454.04" y="258.6"/><use href="#cr" x="456.14" y="255.0"/><use href="#cr" x="458.84" y="252.2"/><use href="#cr" x="459.63" y="250.9"/><use href="#cr" x="461.63" y="247.3"/><use href="#cr" x="464.37" y="242.9"/><use href="#cr" x="465.57" y="242.3"/><use href="#cr" x="467.22" y="239.5"/><use href="#cr" x="469.93" y="234.8"/><use href="#cr" x="471.80" y="232.4"/><use href="#cr" x="473.62" y="229.5"/><use href="#cr" x="475.78" y="227.4"/><use href="#cr" x="476.84" y="225.0"/><use href="#cr" x="479.81" y="221.8"/><use href="#cr" x="481.50" y="219.1"/><use href="#cr" x="482.46" y="216.9"/><use href="#cr" x="484.46" y="214.9"/><use href="#cr" x="486.88" y="211.1"/><use href="#cr" x="488.79" y="208.9"/><use href="#cr" x="490.38" y="206.8"/><use href="#cr" x="492.06" y="203.7"/><use href="#cr" x="494.36" y="200.3"/><use href="#cr" x="495.88" y="199.4"/><use href="#cr" x="498.42" y="195.3"/><use href="#cr" x="500.70" y="192.9"/><use href="#cr" x="501.60" y="191.4"/><use href="#cr" x="504.09" y="188.2"/><use href="#cr" x="506.24" y="185.5"/><use href="#cr" x="507.32" y="183.8"/><use href="#cr" x="510.15" y="179.9"/><use href="#cr" x="512.20" y="176.7"/><use href="#cr" x="513.34" y="176.2"/><use href="#cr" x="515.28" y="173.3"/><use href="#cr" x="517.77" y="170.2"/><use href="#cr" x="519.23" y="168.9"/><use href="#cr" x="520.95" y="165.6"/><use href="#cr" x="523.61" y="163.2"/><use href="#cr" x="525.28" y="160.2"/><use href="#cr" x="526.57" y="159.7"/><use href="#cr" x="528.33" y="157.9"/><use href="#cr" x="530.36" y="155.0"/><use href="#cr" x="532.40" y="153.4"/><use href="#cr" x="535.07" y="151.4"/><use href="#cr" x="536.72" y="149.3"/><use href="#cr" x="538.77" y="147.2"/><use href="#cr" x="540.53" y="145.1"/><use href="#cr" x="542.48" y="143.0"/><use href="#cr" x="543.27" y="142.7"/><use href="#cr" x="545.82" y="140.3"/><use href="#cr" x="548.33" y="137.6"/><use href="#cr" x="550.20" y="136.0"/><use href="#cr" x="551.14" y="134.9"/><use href="#cr" x="553.28" y="133.8"/><use href="#cr" x="555.48" y="131.8"/><use href="#cr" x="557.00" y="129.9"/><use href="#cr" x="559.14" y="128.1"/><use href="#cr" x="560.39" y="127.5"/><use href="#cr" x="562.80" y="125.6"/><use href="#cr" x="564.80" y="124.8"/><use href="#cr" x="566.02" y="123.1"/><use href="#cr" x="568.09" y="121.6"/><use href="#cr" x="571.15" y="120.3"/><use href="#cr" x="572.78" y="118.2"/><use href="#cr" x="574.90" y="117.4"/><use href="#cr" x="576.38" y="116.1"/><use href="#cr" x="578.53" y="115.3"/><use href="#cr" x="580.53" y="113.6"/><use href="#cr" x="582.43" y="112.6"/><use href="#cr" x="583.14" y="111.3"/><use href="#cr" x="585.89" y="110.1"/><use href="#cr" x="587.26" y="109.2"/><use href="#cr" x="589.74" y="107.4"/><use href="#cr" x="591.08" y="107.0"/><use href="#cr" x="593.35" y="105.7"/><use href="#cr" x="595.79" y="103.3"/><use href="#cr" x="597.26" y="102.7"/><use href="#cr" x="598.64" y="102.0"/><use href="#cr" x="600.92" y="100.6"/><use href="#cr" x="602.70" y="99.5"/><use href="#cr" x="605.32" y="98.6"/><use href="#cr" x="606.29" y="98.1"/><use href="#cr" x="608.22" y="97.9"/>
</g>
<g stroke="#00ffff">
<use href="#tr" x="525.97" y="162.7"/><use href="#tr" x="527.57" y="161.8"/><use href="#tr" x="529.49" y="159.4"/><use href="#tr" x="531.38" y="157.1"/><use href="#tr" x="533.12" y="155.5"/><use href="#tr" x="534.80" y="153.4"/><use href="#tr" x="536.54" y="151.2"/><use href="#tr" x="538.31" y="150.4"/><use href="#tr" x="540.70" y="147.7"/><use href="#tr" x="542.35" y="145.4"/><use href="#tr" x="543.75" y="144.2"/><use href="#tr" x="545.93" y="141.5"/><use href="#tr" x="547.89" y="140.9"/><use href="#tr" x="549.44" y="138.7"/><use href="#tr" x="550.97" y="137.2"/><use href="#tr" x="552.99" y="134.7"/><use href="#tr" x="554.76" y="134.2"/><use href="#tr" x="556.41" y="131.7"/><use href="#tr" x="558.43" y="130.7"/><use href="#tr" x="559.90" y="129.5"/><use href="#tr" x="562.25" y="127.5"/><use href="#tr" x="563.89" y="126.6"/><use href="#tr" x="565.68" y="125.4"/><use href="#tr" x="567.66" y="123.6"/><use href="#tr" x="569.29" y="122.1"/><use href="#tr" x="570.85" y="120.7"/><use href="#tr" x="572.65" y="120.5"/><use href="#tr" x="574.38" y="118.6"/><use href="#tr" x="576.12" y="117.2"/><use href="#tr" x="578.36" y="115.9"/><use href="#tr" x="580.20" y="114.3"/><use href="#tr" x="581.68" y="113.0"/><use href="#tr" x="583.41" y="112.5"/><use href="#tr" x="585.48" y="110.5"/><use href="#tr" x="587.41" y="110.0"/><use href="#tr" x="589.26" y="108.7"/><use href="#tr" x="590.60" y="107.3"/><use href="#tr" x="592.77" y="106.2"/><use href="#tr" x="594.60" y="105.7"/><use href="#tr" x="596.35" y="103.8"/><use href="#tr" x="597.90" y="102.9"/><use href="#tr" x="599.61" y="102.1"/><use href="#tr" x="601.80" y="100.6"/><use href="#tr" x="603.29" y="99.9"/><use href="#tr" x="605.12" y="99.9"/><use href="#tr" x="607.03" y="98.6"/><use href="#tr" x="609.5" y="97.6"/><use href="#tr" x="610.6" y="97.2"/><use href="#tr" x="612.0" y="95.8"/><use href="#tr" x="613.0" y="95.8"/><use href="#tr" x="613.9" y="95.0"/><use href="#tr" x="615.1" y="95.9"/><use href="#tr" x="616.3" y="94.6"/><use href="#tr" x="617.7" y="94.4"/><use href="#tr" x="619.0" y="94.1"/><use href="#tr" x="620.5" y="93.0"/><use href="#tr" x="621.9" y="93.4"/><use href="#tr" x="623.1" y="93.4"/><use href="#tr" x="624.3" y="93.1"/><use href="#tr" x="625.2" y="91.7"/><use href="#tr" x="626.3" y="91.6"/><use href="#tr" x="627.5" y="91.7"/><use href="#tr" x="628.4" y="91.7"/><use href="#tr" x="629.7" y="90.8"/><use href="#tr" x="630.7" y="91.6"/><use href="#tr" x="631.8" y="91.4"/><use href="#tr" x="633.3" y="90.3"/><use href="#tr" x="634.2" y="90.9"/><use href="#tr" x="635.1" y="89.9"/><use href="#tr" x="636.2" y="89.6"/><use href="#tr" x="637.2" y="90.7"/><use href="#tr" x="638.5" y="89.6"/><use href="#tr" x="639.3" y="89.5"/><use href="#tr" x="640.7" y="90.0"/><use href="#tr" x="642.1" y="88.9"/><use href="#tr" x="643.5" y="89.6"/><use href="#tr" x="644.6" y="89.2"/><use href="#tr" x="645.7" y="88.5"/><use href="#tr" x="646.9" y="88.9"/><use href="#tr" x="648.1" y="88.7"/><use href="#tr" x="649.3" y="88.9"/><use href="#tr" x="650.3" y="88.6"/><use href="#tr" x="651.5" y="88.1"/><use href="#tr" x="652.7" y="88.5"/><use href="#tr" x="654.1" y="88.2"/><use href="#tr" x="655.6" y="88.4"/><use href="#tr" x="656.5" y="87.1"/><use href="#tr" x="657.6" y="87.1"/><use href="#tr" x="658.7" y="88.0"/><use href="#tr" x="659.9" y="87.6"/><use href="#tr" x="661.0" y="87.2"/><use href="#tr" x="662.0" y="87.1"/><use href="#tr" x="662.9" y="87.6"/><use href="#tr" x="663.9" y="87.7"/><use href="#tr" x="665.1" y="87.2"/><use href="#tr" x="666.6" y="86.5"/><use href="#tr" x="668.0" y="87.2"/><use href="#tr" x="669.4" y="86.5"/><use href="#tr" x="670.9" y="86.9"/><use href="#tr" x="672.4" y="86.9"/><use href="#tr" x="673.6" y="87.3"/><use href="#tr" x="675.0" y="86.0"/><use href="#tr" x="675.9" y="86.1"/><use href="#tr" x="677.2" y="87.0"/><use href="#tr" x="678.4" y="86.5"/><use href="#tr" x="679.5" y="86.1"/><use href="#tr" x="680.7" y="86.1"/><use href="#tr" x="682.2" y="86.2"/><use href="#tr" x="683.3" y="86.9"/><use href="#tr" x="684.6" y="86.4"/><use href="#tr" x="685.7" y="86.5"/><use href="#tr" x="686.7" y="86.7"/><use href="#tr" x="688.1" y="86.5"/><use href="#tr" x="689.0" y="85.8"/><use href="#tr" x="690.0" y="85.6"/><use href="#tr" x="691.3" y="86.6"/><use href="#tr" x="692.4" y="86.0"/><use href="#tr" x="693.3" y="86.3"/><use href="#tr" x="694.6" y="86.1"/><use href="#tr" x="695.7" y="85.5"/><use href="#tr" x="696.9" y="85.2"/><use href="#tr" x="698.0" y="85.3"/><use href="#tr" x="699.2" y="85.8"/><use href="#tr" x="700.5" y="86.4"/><use href="#tr" x="701.6" y="85.5"/><use href="#tr" x="702.5" y="85.8"/><use href="#tr" x="703.5" y="85.3"/><use href="#tr" x="704.9" y="85.5"/><use href="#tr" x="706.1" y="85.2"/><use href="#tr" x="707.0" y="85.3"/><use href="#tr" x="708.4" y="85.1"/><use href="#tr" x="709.4" y="85.2"/><use href="#tr" x="710.4" y="86.2"/><use href="#tr" x="711.5" y="85.9"/><use href="#tr" x="712.6" y="86.0"/><use href="#tr" x="713.7" y="85.0"/><use href="#tr" x="714.9" y="85.4"/><use href="#tr" x="715.9" y="85.9"/><use href="#tr" x="717.2" y="85.0"/><use href="#tr" x="718.1" y="85.4"/><use href="#tr" x="719.3" y="85.0"/><use href="#tr" x="720.5" y="85.4"/><use href="#tr" x="721.4" y="86.2"/><use href="#tr" x="722.5" y="85.0"/><use href="#tr" x="723.4" y="85.6"/><use href="#tr" x="724.5" y="85.8"/><use href="#tr" x="726.0" y="86.0"/><use href="#tr" x="727.2" y="85.2"/><use href="#tr" x="728.5" y="86.1"/><use href="#tr" x="729.8" y="86.0"/><use href="#tr" x="730.7" y="85.0"/><use href="#tr" x="732.2" y="85.7"/><use href="#tr" x="733.6" y="86.0"/><use href="#tr" x="734.5" y="86.3"/><use href="#tr" x="735.9" y="85.4"/><use href="#tr" x="737.0" y="86.2"/><use href="#tr" x="737.9" y="86.1"/><use href="#tr" x="739.4" y="84.9"/><use href="#tr" x="740.6" y="85.3"/><use href="#tr" x="742.0" y="85.8"/><use href="#tr" x="742.9" y="85.3"/><use href="#tr" x="744.3" y="85.4"/><use href="#tr" x="745.2" y="85.8"/><use href="#tr" x="746.2" y="86.0"/><use href="#tr" x="747.3" y="85.0"/><use href="#tr" x="748.1" y="84.8"/><use href="#tr" x="749.4" y="85.1"/><use href="#tr" x="750.3" y="85.6"/><use href="#tr" x="751.4" y="86.0"/><use href="#tr" x="752.7" y="85.3"/><use href="#tr" x="753.8" y="85.3"/><use href="#tr" x="755.2" y="85.3"/><use href="#tr" x="756.5" y="85.8"/><use href="#tr" x="757.9" y="86.0"/><use href="#tr" x="759.1" y="85.0"/><use href="#tr" x="760.6" y="86.2"/><use href="#tr" x="762.0" y="85.6"/><use href="#tr" x="763.0" y="85.1"/><use href="#tr" x="764.3" y="85.7"/><use href="#tr" x="765.4" y="85.9"/><use href="#tr" x="766.7" y="85.5"/><use href="#tr" x="768.0" y="84.8"/><use href="#tr" x="769.4" y="85.7"/><use href="#tr" x="770.3" y="85.7"/><use href="#tr" x="772.0" y="85.6"/><use href="#tr" x="774.1" y="85.8"/><use href="#tr" x="776.4" y="85.6"/><use href="#tr" x="778.5" y="85.3"/><use href="#tr" x="779.7" y="85.5"/><use href="#tr" x="781.6" y="85.2"/><use href="#tr" x="783.0" y="85.2"/><use href="#tr" x="784.8" y="85.6"/><use href="#tr" x="787.0" y="84.9"/><use href="#tr" x="788.3" y="85.9"/><use href="#tr" x="790.6" y="86.2"/><use href="#tr" x="793.2" y="85.0"/><use href="#tr" x="796.4" y="85.7"/><use href="#tr" x="799.6" y="85.4"/><use href="#tr" x="802.2" y="86.2"/><use href="#tr" x="806.2" y="86.1"/><use href="#tr" x="808.2" y="85.7"/><use href="#tr" x="813.7" y="85.0"/><use href="#tr" x="817.7" y="85.6"/><use href="#tr" x="819.7" y="85.1"/><use href="#tr" x="821.7" y="85.9"/><use href="#tr" x="825.7" y="85.2"/><use href="#tr" x="827.7" y="85.6"/><use href="#tr" x="829.7" y="85.8"/><use href="#tr" x="832.9" y="86.1"/>
</g>
<g stroke="#ffff00">
<use href="#st" x="526.02" y="160.2"/><use href="#st" x="527.21" y="158.9"/><use href="#st" x="528.37" y="157.2"/><use href="#st" x="529.42" y="156.3"/><use href="#st" x="530.51" y="155.7"/><use href="#st" x="531.93" y="153.6"/><use href="#st" x="532.96" y="152.7"/><use href="#st" x="534.42" y="152.0"/><use href="#st" x="535.23" y="150.6"/><use href="#st" x="536.85" y="149.2"/><use href="#st" x="538.04" y="147.9"/><use href="#st" x="538.93" y="147.9"/><use href="#st" x="540.03" y="145.8"/><use href="#st" x="541.57" y="145.1"/><use href="#st" x="542.32" y="144.7"/><use href="#st" x="543.90" y="142.2"/><use href="#st" x="544.71" y="141.8"/><use href="#st" x="546.38" y="140.7"/><use href="#st" x="547.65" y="139.3"/><use href="#st" x="548.70" y="137.9"/><use href="#st" x="549.71" y="136.5"/><use href="#st" x="550.84" y="136.0"/><use href="#st" x="552.13" y="134.7"/><use href="#st" x="553.64" y="133.9"/><use href="#st" x="554.53" y="132.5"/><use href="#st" x="555.89" y="131.5"/><use href="#st" x="557.22" y="130.7"/><use href="#st" x="557.92" y="130.3"/><use href="#st" x="559.11" y="128.7"/><use href="#st" x="560.73" y="127.5"/><use href="#st" x="561.65" y="127.0"/><use href="#st" x="562.91" y="126.6"/><use href="#st" x="564.10" y="124.7"/><use href="#st" x="565.36" y="124.9"/><use href="#st" x="566.47" y="123.7"/><use href="#st" x="568.03" y="122.1"/><use href="#st" x="569.00" y="121.9"/><use href="#st" x="570.49" y="120.4"/><use href="#st" x="571.57" y="119.3"/><use href="#st" x="572.59" y="119.6"/><use href="#st" x="574.06" y="118.1"/><use href="#st" x="575.16" y="117.6"/><use href="#st" x="576.47" y="116.7"/><use href="#st" x="577.18" y="116.8"/><use href="#st" x="578.48" y="115.7"/><use href="#st" x="579.55" y="113.9"/><use href="#st" x="580.70" y="113.9"/><use href="#st" x="582.42" y="112.6"/><use href="#st" x="583.25" y="112.0"/><use href="#st" x="584.49" y="111.7"/><use href="#st" x="585.87" y="110.2"/><use href="#st" x="587.27" y="109.3"/><use href="#st" x="588.03" y="109.4"/><use href="#st" x="589.13" y="108.1"/><use href="#st" x="590.77" y="107.2"/><use href="#st" x="592.01" y="106.4"/><use href="#st" x="593.14" y="106.2"/><use href="#st" x="593.93" y="105.5"/><use href="#st" x="595.56" y="104.6"/><use href="#st" x="596.56" y="103.5"/><use href="#st" x="597.76" y="102.3"/><use href="#st" x="598.78" y="102.7"/><use href="#st" x="600.46" y="101.6"/><use href="#st" x="601.51" y="101.3"/><use href="#st" x="602.78" y="100.7"/><use href="#st" x="603.59" y="99.4"/><use href="#st" x="605.25" y="98.8"/><use href="#st" x="605.98" y="98.3"/><use href="#st" x="607.28" y="98.7"/><use href="#st" x="609.5" y="96.7"/><use href="#st" x="610.7" y="96.2"/><use href="#st" x="611.8" y="96.7"/><use href="#st" x="613.1" y="95.9"/><use href="#st" x="614.2" y="94.8"/><use href="#st" x="615.4" y="95.3"/><use href="#st" x="616.5" y="95.0"/><use href="#st" x="617.7" y="94.3"/><use href="#st" x="619.0" y="93.3"/><use href="#st" x="620.1" y="93.9"/><use href="#st" x="621.2" y="93.2"/><use href="#st" x="622.6" y="93.1"/><use href="#st" x="623.9" y="93.3"/><use href="#st" x="624.8" y="92.8"/><use href="#st" x="626.1" y="92.6"/><use href="#st" x="627.0" y="91.4"/><use href="#st" x="627.9" y="91.5"/><use href="#st" x="629.1" y="91.5"/><use href="#st" x="630.4" y="90.5"/><use href="#st" x="631.7" y="91.7"/><use href="#st" x="633.0" y="90.4"/><use href="#st" x="633.9" y="90.3"/><use href="#st" x="635.3" y="90.1"/><use href="#st" x="636.2" y="89.9"/><use href="#st" x="637.1" y="90.6"/><use href="#st" x="638.6" y="89.9"/><use href="#st" x="640.1" y="89.6"/><use href="#st" x="641.3" y="89.3"/><use href="#st" x="642.1" y="88.7"/><use href="#st" x="643.1" y="88.9"/><use href="#st" x="644.3" y="89.5"/><use href="#st" x="645.6" y="89.2"/><use href="#st" x="646.8" y="89.1"/><use href="#st" x="648.3" y="88.1"/><use href="#st" x="649.5" y="87.9"/><use href="#st" x="650.9" y="87.5"/><use href="#st" x="652.3" y="88.0"/><use href="#st" x="653.2" y="87.7"/><use href="#st" x="654.7" y="87.7"/><use href="#st" x="656.1" y="87.6"/><use href="#st" x="657.6" y="87.6"/><use href="#st" x="658.6" y="87.3"/><use href="#st" x="659.5" y="87.8"/><use href="#st" x="660.8" y="86.9"/><use href="#st" x="661.7" y="87.9"/><use href="#st" x="662.7" y="87.3"/><use href="#st" x="664.2" y="86.5"/><use href="#st" x="665.1" y="86.8"/><use href="#st" x="666.0" y="87.1"/><use href="#st" x="667.4" y="86.8"/><use href="#st" x="668.8" y="86.9"/><use href="#st" x="669.9" y="86.6"/><use href="#st" x="670.9" y="86.4"/><use href="#st" x="671.8" y="87.1"/><use href="#st" x="673.0" y="86.4"/><use href="#st" x="674.0" y="86.9"/><use href="#st" x="675.1" y="87.0"/><use href="#st" x="676.2" y="86.6"/><use href="#st" x="677.7" y="86.4"/><use href="#st" x="679.0" y="87.0"/><use href="#st" x="680.0" y="86.3"/><use href="#st" x="681.2" y="86.8"/><use href="#st" x="682.4" y="85.6"/><use href="#st" x="683.5" y="86.1"/><use href="#st" x="684.4" y="86.4"/><use href="#st" x="685.7" y="85.5"/><use href="#st" x="687.2" y="86.6"/><use href="#st" x="688.5" y="85.5"/><use href="#st" x="690.0" y="86.2"/><use href="#st" x="691.2" y="85.5"/><use href="#st" x="692.2" y="86.6"/><use href="#st" x="693.4" y="86.0"/><use href="#st" x="694.9" y="86.3"/><use href="#st" x="696.2" y="85.9"/><use href="#st" x="697.5" y="86.1"/><use href="#st" x="699.0" y="86.1"/><use href="#st" x="700.4" y="85.6"/><use href="#st" x="701.7" y="85.4"/><use href="#st" x="702.6" y="86.3"/><use href="#st" x="703.9" y="85.3"/><use href="#st" x="704.7" y="86.4"/><use href="#st" x="706.0" y="85.4"/><use href="#st" x="707.2" y="85.2"/><use href="#st" x="708.4" y="85.2"/><use href="#st" x="709.7" y="86.2"/><use href="#st" x="710.8" y="86.4"/><use href="#st" x="712.1" y="85.6"/><use href="#st" x="713.2" y="86.0"/><use href="#st" x="714.5" y="85.4"/><use href="#st" x="715.6" y="86.3"/><use href="#st" x="716.9" y="86.0"/><use href="#st" x="718.0" y="85.2"/><use href="#st" x="719.1" y="85.1"/><use href="#st" x="720.3" y="85.9"/><use href="#st" x="721.4" y="85.0"/><use href="#st" x="722.8" y="86.1"/><use href="#st" x="724.2" y="85.3"/><use href="#st" x="725.6" y="85.3"/><use href="#st" x="726.7" y="85.7"/><use href="#st" x="727.6" y="85.4"/><use href="#st" x="729.0" y="85.7"/><use href="#st" x="730.1" y="85.1"/><use href="#st" x="731.3" y="86.2"/><use href="#st" x="732.7" y="85.3"/><use href="#st" x="733.6" y="86.1"/><use href="#st" x="735.0" y="85.1"/><use href="#st" x="736.3" y="86.0"/><use href="#st" x="737.7" y="86.2"/><use href="#st" x="739.1" y="85.4"/><use href="#st" x="740.1" y="84.9"/><use href="#st" x="741.5" y="85.4"/><use href="#st" x="742.9" y="85.7"/><use href="#st" x="744.0" y="85.1"/><use href="#st" x="745.2" y="85.6"/><use href="#st" x="746.4" y="85.0"/><use href="#st" x="747.9" y="85.5"/><use href="#st" x="748.8" y="85.8"/><use href="#st" x="750.2" y="85.4"/><use href="#st" x="751.3" y="85.8"/><use href="#st" x="752.2" y="85.0"/><use href="#st" x="753.2" y="86.0"/><use href="#st" x="754.3" y="85.0"/><use href="#st" x="755.6" y="86.1"/><use href="#st" x="756.5" y="86.2"/><use href="#st" x="757.8" y="86.1"/><use href="#st" x="758.8" y="85.5"/><use href="#st" x="760.2" y="85.2"/><use href="#st" x="761.6" y="85.3"/><use href="#st" x="762.9" y="85.9"/><use href="#st" x="764.4" y="85.5"/><use href="#st" x="765.4" y="86.1"/><use href="#st" x="766.5" y="84.9"/><use href="#st" x="767.9" y="85.5"/><use href="#st" x="769.0" y="86.0"/><use href="#st" x="770.2" y="85.6"/><use href="#st" x="772.2" y="85.6"/><use href="#st" x="773.8" y="84.9"/><use href="#st" x="775.5" y="85.0"/><use href="#st" x="777.5" y="85.2"/><use href="#st" x="779.3" y="86.1"/><use href="#st" x="780.9" y="86.0"/><use href="#st" x="782.9" y="85.1"/><use href="#st" x="784.4" y="86.1"/><use href="#st" x="785.9" y="84.8"/><use href="#st" x="787.7" y="85.6"/><use href="#st" x="789.0" y="86.2"/><use href="#st" x="791.0" y="85.3"/><use href="#st" x="793.6" y="86.1"/><use href="#st" x="799.1" y="85.7"/><use href="#st" x="801.7" y="84.9"/><use href="#st" x="803.7" y="85.3"/><use href="#st" x="806.3" y="85.4"/><use href="#st" x="809.5" y="85.1"/><use href="#st" x="813.5" y="85.8"/><use href="#st" x="819.0" y="85.1"/><use href="#st" x="821.6" y="85.9"/><use href="#st" x="827.1" y="85.2"/><use href="#st" x="830.3" y="84.9"/><use href="#st" x="833.6" y="85.6"/>
</g>
<g stroke="#000000">
<use href="#di" x="525.26" y="164.5"/><use href="#di" x="527.43" y="161.8"/><use href="#di" x="529.47" y="159.2"/><use href="#di" x="531.26" y="156.5"/><use href="#di" x="533.08" y="155.4"/><use href="#di" x="534.72" y="153.0"/><use href="#di" x="536.91" y="151.0"/><use href="#di" x="538.56" y="149.5"/><use href="#di" x="540.79" y="147.0"/><use href="#di" x="542.38" y="145.3"/><use href="#di" x="544.55" y="143.2"/><use href="#di" x="546.31" y="141.5"/><use href="#di" x="548.22" y="140.2"/><use href="#di" x="550.30" y="138.2"/><use href="#di" x="551.90" y="137.0"/><use href="#di" x="553.80" y="135.0"/><use href="#di" x="556.16" y="131.9"/><use href="#di" x="557.70" y="131.3"/><use href="#di" x="559.91" y="129.3"/><use href="#di" x="561.82" y="128.0"/><use href="#di" x="563.49" y="125.8"/><use href="#di" x="565.19" y="125.7"/><use href="#di" x="567.06" y="124.3"/><use href="#di" x="569.43" y="121.5"/><use href="#di" x="570.87" y="120.9"/><use href="#di" x="573.00" y="119.3"/><use href="#di" x="574.92" y="118.3"/><use href="#di" x="576.57" y="116.6"/><use href="#di" x="578.68" y="115.8"/><use href="#di" x="580.40" y="114.4"/><use href="#di" x="582.52" y="113.6"/><use href="#di" x="584.40" y="111.6"/><use href="#di" x="586.22" y="109.7"/><use href="#di" x="588.02" y="109.8"/><use href="#di" x="590.04" y="107.6"/><use href="#di" x="591.82" y="106.4"/><use href="#di" x="593.68" y="106.2"/><use href="#di" x="595.64" y="104.5"/><use href="#di" x="597.92" y="103.8"/><use href="#di" x="599.60" y="101.7"/><use href="#di" x="601.73" y="101.2"/><use href="#di" x="603.11" y="101.0"/><use href="#di" x="605.57" y="99.3"/><use href="#di" x="607.19" y="98.1"/><use href="#di" x="609.5" y="97.8"/><use href="#di" x="610.9" y="96.1"/><use href="#di" x="612.1" y="96.4"/><use href="#di" x="613.4" y="95.7"/><use href="#di" x="614.4" y="94.8"/><use href="#di" x="615.7" y="95.6"/><use href="#di" x="616.7" y="94.9"/><use href="#di" x="617.7" y="94.3"/><use href="#di" x="618.6" y="94.8"/><use href="#di" x="619.7" y="93.6"/><use href="#di" x="620.9" y="94.0"/><use href="#di" x="621.9" y="92.9"/><use href="#di" x="623.3" y="93.2"/><use href="#di" x="624.2" y="92.5"/><use href="#di" x="625.5" y="91.6"/><use href="#di" x="626.5" y="92.1"/><use href="#di" x="627.7" y="92.3"/><use href="#di" x="629.1" y="91.1"/><use href="#di" x="630.4" y="91.7"/><use href="#di" x="631.3" y="90.4"/><use href="#di" x="632.3" y="90.6"/><use href="#di" x="633.5" y="90.7"/><use href="#di" x="635.0" y="90.7"/><use href="#di" x="635.9" y="90.8"/><use href="#di" x="637.1" y="90.2"/><use href="#di" x="638.4" y="90.5"/><use href="#di" x="639.8" y="90.0"/><use href="#di" x="640.9" y="89.3"/><use href="#di" x="642.2" y="89.5"/><use href="#di" x="643.4" y="88.8"/><use href="#di" x="644.8" y="89.4"/><use href="#di" x="645.7" y="88.7"/><use href="#di" x="647.2" y="88.7"/><use href="#di" x="648.3" y="89.0"/><use href="#di" x="649.4" y="88.2"/><use href="#di" x="650.3" y="88.5"/><use href="#di" x="651.3" y="87.9"/><use href="#di" x="652.6" y="87.7"/><use href="#di" x="653.9" y="88.2"/><use href="#di" x="654.9" y="87.7"/><use href="#di" x="656.0" y="87.1"/><use href="#di" x="656.9" y="88.2"/><use href="#di" x="657.9" y="87.7"/><use href="#di" x="658.9" y="87.4"/><use href="#di" x="659.9" y="87.2"/><use href="#di" x="661.4" y="86.8"/><use href="#di" x="662.9" y="87.7"/><use href="#di" x="664.3" y="86.5"/><use href="#di" x="665.4" y="86.7"/><use href="#di" x="666.6" y="87.0"/><use href="#di" x="668.0" y="87.1"/><use href="#di" x="669.4" y="87.3"/><use href="#di" x="670.8" y="86.6"/><use href="#di" x="672.0" y="86.1"/><use href="#di" x="673.0" y="86.5"/><use href="#di" x="674.2" y="86.9"/><use href="#di" x="675.6" y="86.4"/><use href="#di" x="677.0" y="86.9"/><use href="#di" x="677.9" y="86.9"/><use href="#di" x="679.2" y="85.8"/><use href="#di" x="680.3" y="86.3"/><use href="#di" x="681.3" y="85.6"/><use href="#di" x="682.7" y="86.3"/><use href="#di" x="684.0" y="86.5"/><use href="#di" x="685.4" y="85.9"/><use href="#di" x="686.3" y="86.3"/><use href="#di" x="687.7" y="85.9"/><use href="#di" x="689.2" y="86.7"/><use href="#di" x="690.6" y="86.6"/><use href="#di" x="691.9" y="86.5"/><use href="#di" x="693.3" y="85.4"/><use href="#di" x="694.7" y="86.1"/><use href="#di" x="695.9" y="86.4"/><use href="#di" x="697.1" y="86.4"/><use href="#di" x="698.4" y="86.2"/><use href="#di" x="699.8" y="86.5"/><use href="#di" x="701.2" y="85.4"/><use href="#di" x="702.3" y="85.4"/><use href="#di" x="703.7" y="86.1"/><use href="#di" x="704.9" y="86.2"/><use href="#di" x="706.4" y="85.3"/><use href="#di" x="707.3" y="85.7"/><use href="#di" x="708.8" y="86.3"/><use href="#di" x="710.2" y="86.2"/><use href="#di" x="711.2" y="86.2"/><use href="#di" x="712.6" y="85.6"/><use href="#di" x="713.6" y="85.7"/><use href="#di" x="714.6" y="85.5"/><use href="#di" x="715.7" y="86.2"/><use href="#di" x="716.7" y="86.0"/><use href="#di" x="717.9" y="85.2"/><use href="#di" x="719.3" y="86.0"/><use href="#di" x="720.6" y="85.5"/><use href="#di" x="721.9" y="86.3"/><use href="#di" x="723.0" y="85.4"/><use href="#di" x="724.4" y="85.2"/><use href="#di" x="725.8" y="85.9"/><use href="#di" x="727.0" y="86.2"/><use href="#di" x="728.5" y="85.0"/><use href="#di" x="729.9" y="84.9"/><use href="#di" x="731.0" y="85.7"/><use href="#di" x="731.9" y="85.2"/><use href="#di" x="733.2" y="85.5"/><use href="#di" x="734.6" y="85.2"/><use href="#di" x="735.7" y="85.9"/><use href="#di" x="736.9" y="86.0"/><use href="#di" x="738.3" y="85.8"/><use href="#di" x="739.6" y="86.0"/><use href="#di" x="740.5" y="85.0"/><use href="#di" x="741.7" y="85.1"/><use href="#di" x="742.5" y="86.0"/><use href="#di" x="743.5" y="85.2"/><use href="#di" x="744.8" y="85.0"/><use href="#di" x="746.0" y="85.2"/><use href="#di" x="747.2" y="84.9"/><use href="#di" x="748.3" y="86.2"/><use href="#di" x="749.4" y="86.1"/><use href="#di" x="750.4" y="85.3"/><use href="#di" x="751.5" y="85.2"/><use href="#di" x="752.9" y="85.7"/><use href="#di" x="754.1" y="86.0"/><use href="#di" x="755.2" y="85.3"/><use href="#di" x="756.1" y="86.1"/><use href="#di" x="757.1" y="85.8"/><use href="#di" x="758.4" y="85.9"/><use href="#di" x="759.5" y="85.6"/><use href="#di" x="760.8" y="85.5"/><use href="#di" x="762.2" y="85.7"/><use href="#di" x="763.1" y="86.1"/><use href="#di" x="764.4" y="85.2"/><use href="#di" x="765.3" y="85.3"/><use href="#di" x="766.7" y="85.6"/><use href="#di" x="767.7" y="86.0"/><use href="#di" x="768.7" y="84.9"/><use href="#di" x="770.2" y="84.8"/><use href="#di" x="771.8" y="85.5"/><use href="#di" x="773.3" y="85.0"/><use href="#di" x="775.5" y="86.1"/><use href="#di" x="777.5" y="85.1"/><use href="#di" x="779.7" y="85.4"/><use href="#di" x="781.4" y="85.9"/><use href="#di" x="783.2" y="85.4"/><use href="#di" x="785.6" y="85.5"/><use href="#di" x="787.4" y="86.2"/><use href="#di" x="789.7" y="85.6"/><use href="#di" x="791.2" y="85.6"/><use href="#di" x="793.8" y="84.8"/><use href="#di" x="797.8" y="85.6"/><use href="#di" x="803.3" y="85.5"/><use href="#di" x="805.3" y="85.5"/><use href="#di" x="807.3" y="85.2"/><use href="#di" x="809.9" y="86.1"/><use href="#di" x="811.9" y="86.2"/><use href="#di" x="814.5" y="85.5"/><use href="#di" x="818.5" y="85.1"/><use href="#di" x="824.0" y="85.6"/><use href="#di" x="827.2" y="85.9"/><use href="#di" x="830.4" y="85.2"/><use href="#di" x="832.4" y="86.2"/>
</g>
<g stroke="#ff4d00">
<use href="#pl" x="526.05" y="159.5"/><use href="#pl" x="527.63" y="158.5"/><use href="#pl" x="528.83" y="157.3"/><use href="#pl" x="530.30" y="155.7"/><use href="#pl" x="532.19" y="154.2"/><use href="#pl" x="533.36" y="152.5"/><use href="#pl" x="534.92" y="150.3"/><use href="#pl" x="536.77" y="149.1"/><use href="#pl" x="537.86" y="148.3"/><use href="#pl" x="539.25" y="146.1"/><use href="#pl" x="540.77" y="144.9"/><use href="#pl" x="542.43" y="144.2"/><use href="#pl" x="544.27" y="142.6"/><use href="#pl" x="545.45" y="140.2"/><use href="#pl" x="547.10" y="138.9"/><use href="#pl" x="548.73" y="137.4"/><use href="#pl" x="549.73" y="136.4"/><use href="#pl" x="551.42" y="135.2"/><use href="#pl" x="553.02" y="133.8"/><use href="#pl" x="554.59" y="132.1"/><use href="#pl" x="555.85" y="130.8"/><use href="#pl" x="557.59" y="129.2"/><use href="#pl" x="559.05" y="127.9"/><use href="#pl" x="560.46" y="127.7"/><use href="#pl" x="562.28" y="126.4"/><use href="#pl" x="563.73" y="124.6"/><use href="#pl" x="565.07" y="123.8"/><use href="#pl" x="566.31" y="123.8"/><use href="#pl" x="568.07" y="122.5"/><use href="#pl" x="569.27" y="121.2"/><use href="#pl" x="570.80" y="119.6"/><use href="#pl" x="572.66" y="119.2"/><use href="#pl" x="574.25" y="118.1"/><use href="#pl" x="576.74" y="115.5"/><use href="#pl" x="578.21" y="114.4"/><use href="#pl" x="580.67" y="112.8"/><use href="#pl" x="582.67" y="112.4"/><use href="#pl" x="584.65" y="111.0"/><use href="#pl" x="586.66" y="108.9"/><use href="#pl" x="588.32" y="108.9"/><use href="#pl" x="590.65" y="107.3"/><use href="#pl" x="592.70" y="105.0"/><use href="#pl" x="594.38" y="104.8"/><use href="#pl" x="596.67" y="103.0"/><use href="#pl" x="598.21" y="102.1"/><use href="#pl" x="600.64" y="100.6"/><use href="#pl" x="602.57" y="100.6"/><use href="#pl" x="604.21" y="99.9"/><use href="#pl" x="606.41" y="97.8"/><use href="#pl" x="608.45" y="97.4"/><use href="#pl" x="609.5" y="96.6"/><use href="#pl" x="611.5" y="95.8"/><use href="#pl" x="612.5" y="96.5"/><use href="#pl" x="613.5" y="95.8"/><use href="#pl" x="614.5" y="95.2"/><use href="#pl" x="615.5" y="95.0"/><use href="#pl" x="616.5" y="94.9"/><use href="#pl" x="617.5" y="94.6"/><use href="#pl" x="618.5" y="93.7"/><use href="#pl" x="619.5" y="94.1"/><use href="#pl" x="620.5" y="92.8"/><use href="#pl" x="621.5" y="93.2"/><use href="#pl" x="622.5" y="92.7"/><use href="#pl" x="623.5" y="92.8"/><use href="#pl" x="624.5" y="92.3"/><use href="#pl" x="625.5" y="92.7"/><use href="#pl" x="626.5" y="91.3"/><use href="#pl" x="627.5" y="92.2"/><use href="#pl" x="629.5" y="91.0"/><use href="#pl" x="630.5" y="91.0"/><use href="#pl" x="632.5" y="90.2"/><use href="#pl" x="633.5" y="90.2"/><use href="#pl" x="634.5" y="89.8"/><use href="#pl" x="635.5" y="90.8"/><use href="#pl" x="636.5" y="90.1"/><use href="#pl" x="638.5" y="89.6"/><use href="#pl" x="641.5" y="88.8"/><use href="#pl" x="643.5" y="88.6"/><use href="#pl" x="644.5" y="88.9"/><use href="#pl" x="645.5" y="88.4"/><use href="#pl" x="646.5" y="88.0"/><use href="#pl" x="647.5" y="88.8"/><use href="#pl" x="648.5" y="88.1"/><use href="#pl" x="651.5" y="88.6"/><use href="#pl" x="652.5" y="88.6"/><use href="#pl" x="653.5" y="87.9"/><use href="#pl" x="655.5" y="88.1"/><use href="#pl" x="656.5" y="87.8"/><use href="#pl" x="657.5" y="87.7"/><use href="#pl" x="658.5" y="87.1"/><use href="#pl" x="659.5" y="87.8"/><use href="#pl" x="661.5" y="87.8"/><use href="#pl" x="662.5" y="87.5"/><use href="#pl" x="663.5" y="87.1"/><use href="#pl" x="664.5" y="86.6"/><use href="#pl" x="665.5" y="87.7"/><use href="#pl" x="666.5" y="87.1"/><use href="#pl" x="667.5" y="87.1"/><use href="#pl" x="669.5" y="86.4"/><use href="#pl" x="672.5" y="87.3"/><use href="#pl" x="673.5" y="86.3"/><use href="#pl" x="674.5" y="86.4"/><use href="#pl" x="675.5" y="86.3"/><use href="#pl" x="676.5" y="87.1"/><use href="#pl" x="678.5" y="85.8"/><use href="#pl" x="680.5" y="86.8"/><use href="#pl" x="681.5" y="86.5"/><use href="#pl" x="682.5" y="86.4"/><use href="#pl" x="683.5" y="86.4"/><use href="#pl" x="684.5" y="86.5"/><use href="#pl" x="686.5" y="85.6"/><use href="#pl" x="687.5" y="85.5"/><use href="#pl" x="688.5" y="85.5"/><use href="#pl" x="689.5" y="85.9"/><use href="#pl" x="691.5" y="85.4"/><use href="#pl" x="692.5" y="86.3"/><use href="#pl" x="694.5" y="86.0"/><use href="#pl" x="697.5" y="85.3"/><use href="#pl" x="698.5" y="85.3"/><use href="#pl" x="699.5" y="86.0"/><use href="#pl" x="701.5" y="86.2"/><use href="#pl" x="702.5" y="86.0"/><use href="#pl" x="704.5" y="85.8"/><use href="#pl" x="705.5" y="86.3"/><use href="#pl" x="706.5" y="86.4"/><use href="#pl" x="707.5" y="85.7"/><use href="#pl" x="709.5" y="86.3"/><use href="#pl" x="710.5" y="85.4"/><use href="#pl" x="711.5" y="85.6"/><use href="#pl" x="713.5" y="86.0"/><use href="#pl" x="716.5" y="85.2"/><use href="#pl" x="717.5" y="86.4"/><use href="#pl" x="718.5" y="86.2"/><use href="#pl" x="720.5" y="86.2"/><use href="#pl" x="721.5" y="85.6"/><use href="#pl" x="722.5" y="85.4"/><use href="#pl" x="723.5" y="85.2"/><use href="#pl" x="724.5" y="85.5"/><use href="#pl" x="725.5" y="86.0"/><use href="#pl" x="726.5" y="85.1"/><use href="#pl" x="728.5" y="85.2"/><use href="#pl" x="729.5" y="85.4"/><use href="#pl" x="730.5" y="85.4"/><use href="#pl" x="731.5" y="85.8"/><use href="#pl" x="732.5" y="86.1"/><use href="#pl" x="733.5" y="85.0"/><use href="#pl" x="734.5" y="85.0"/><use href="#pl" x="735.5" y="86.0"/><use href="#pl" x="737.5" y="85.8"/><use href="#pl" x="738.5" y="85.3"/><use href="#pl" x="739.5" y="85.2"/><use href="#pl" x="740.5" y="84.9"/><use href="#pl" x="741.5" y="85.5"/><use href="#pl" x="744.5" y="86.0"/><use href="#pl" x="747.5" y="84.9"/><use href="#pl" x="748.5" y="85.2"/><use href="#pl" x="749.5" y="84.9"/><use href="#pl" x="750.5" y="85.6"/><use href="#pl" x="751.5" y="84.9"/><use href="#pl" x="752.5" y="85.2"/><use href="#pl" x="753.5" y="85.2"/><use href="#pl" x="754.5" y="86.1"/><use href="#pl" x="755.5" y="86.1"/><use href="#pl" x="758.5" y="85.3"/><use href="#pl" x="759.5" y="85.6"/><use href="#pl" x="761.5" y="85.0"/><use href="#pl" x="762.5" y="85.3"/><use href="#pl" x="763.5" y="85.8"/><use href="#pl" x="764.5" y="85.3"/><use href="#pl" x="765.5" y="85.0"/><use href="#pl" x="766.5" y="85.7"/><use href="#pl" x="767.5" y="86.0"/><use href="#pl" x="770.5" y="86.1"/><use href="#pl" x="772.2" y="85.0"/><use href="#pl" x="774.4" y="85.9"/><use href="#pl" x="775.7" y="86.1"/><use href="#pl" x="776.9" y="84.8"/><use href="#pl" x="778.9" y="85.7"/><use href="#pl" x="780.2" y="86.0"/><use href="#pl" x="782.1" y="85.9"/><use href="#pl" x="784.0" y="86.0"/><use href="#pl" x="786.2" y="85.1"/><use href="#pl" x="788.0" y="86.1"/><use href="#pl" x="790.1" y="85.2"/><use href="#pl" x="795.6" y="84.8"/><use href="#pl" x="801.1" y="84.9"/><use href="#pl" x="804.3" y="85.3"/><use href="#pl" x="808.3" y="85.3"/><use href="#pl" x="812.3" y="85.2"/><use href="#pl" x="814.3" y="85.5"/><use href="#pl" x="819.8" y="85.5"/><use href="#pl" x="822.4" y="85.0"/><use href="#pl" x="824.4" y="85.6"/><use href="#pl" x="827.0" y="85.5"/><use href="#pl" x="832.5" y="85.4"/>
</g>
</g>
<text transform="translate(134.9,949.3) scale(1,1.275)" text-anchor="middle" fill="#000">0.0001</text>
<text transform="translate(234.8,949.3) scale(1,1.275)" text-anchor="middle" fill="#000">0.001</text>
<text transform="translate(334.7,949.3) scale(1,1.275)" text-anchor="middle" fill="#000">0.01</text>
<text transform="translate(434.6,949.3) scale(1,1.275)" text-anchor="middle" fill="#000">0.1</text>
<text transform="translate(534.5,949.3) scale(1,1.275)" text-anchor="middle" fill="#000">1</text>
<text transform="translate(634.4,949.3) scale(1,1.275)" text-anchor="middle" fill="#000">10</text>
<text transform="translate(734.3,949.3) scale(1,1.275)" text-anchor="middle" fill="#000">100</text>
<text transform="translate(834.2,949.3) scale(1,1.275)" text-anchor="middle" fill="#000">1000</text>
<text transform="translate(121.2,285.1) scale(1,1.275)" text-anchor="end" fill="#000">1</text>
<text transform="translate(121.2,660.2) scale(1,1.275)" text-anchor="end" fill="#000">0.1</text>
<text transform="translate(485,976) scale(1,1.275)" text-anchor="middle" fill="#000">x</text>
<text transform="translate(30,463.4) scale(0.97,1.22) rotate(-90)" text-anchor="middle" fill="#000">g(x)</text>
<g fill="none" stroke-width="1.05">
<use href="#di" x="827.5" y="162.8" stroke="#00ff00"/>
<use href="#pl" x="827.5" y="190.1" stroke="#0000ff"/>
<use href="#bx" x="827.5" y="217.4" stroke="#ff0000"/>
<use href="#cr" x="827.5" y="244.7" stroke="#ff00ff"/>
<use href="#tr" x="827.5" y="272.0" stroke="#00ffff"/>
<use href="#st" x="827.5" y="299.3" stroke="#ffff00"/>
<use href="#di" x="827.5" y="326.6" stroke="#000000"/>
<use href="#pl" x="827.5" y="353.9" stroke="#ff4d00"/>
</g>
<text transform="translate(800.3,171.8) scale(1,1.275)" text-anchor="end" fill="#00ff00" style="font-size:22.65px">b,0.55,0.00</text>
<text transform="translate(800.3,199.1) scale(1,1.275)" text-anchor="end" fill="#0000ff" style="font-size:22.65px">b,0.55,2.00</text>
<text transform="translate(800.3,226.4) scale(1,1.275)" text-anchor="end" fill="#ff0000" style="font-size:22.65px">b,0.25,0.00</text>
<text transform="translate(800.3,253.7) scale(1,1.275)" text-anchor="end" fill="#ff00ff" style="font-size:22.65px">b,0.25,2.00</text>
<text transform="translate(800.3,281.0) scale(1,1.275)" text-anchor="end" fill="#00ffff" style="font-size:22.65px">a,0.55,0.00</text>
<text transform="translate(800.3,308.3) scale(1,1.275)" text-anchor="end" fill="#ffff00" style="font-size:22.65px">a,0.55,2.00</text>
<text transform="translate(800.3,335.6) scale(1,1.275)" text-anchor="end" fill="#000000" style="font-size:22.65px">a,0.25,0.00</text>
<text transform="translate(800.3,362.9) scale(1,1.275)" text-anchor="end" fill="#ff4d00" style="font-size:22.65px">a,0.25,2.00</text>
</svg></body></html>
